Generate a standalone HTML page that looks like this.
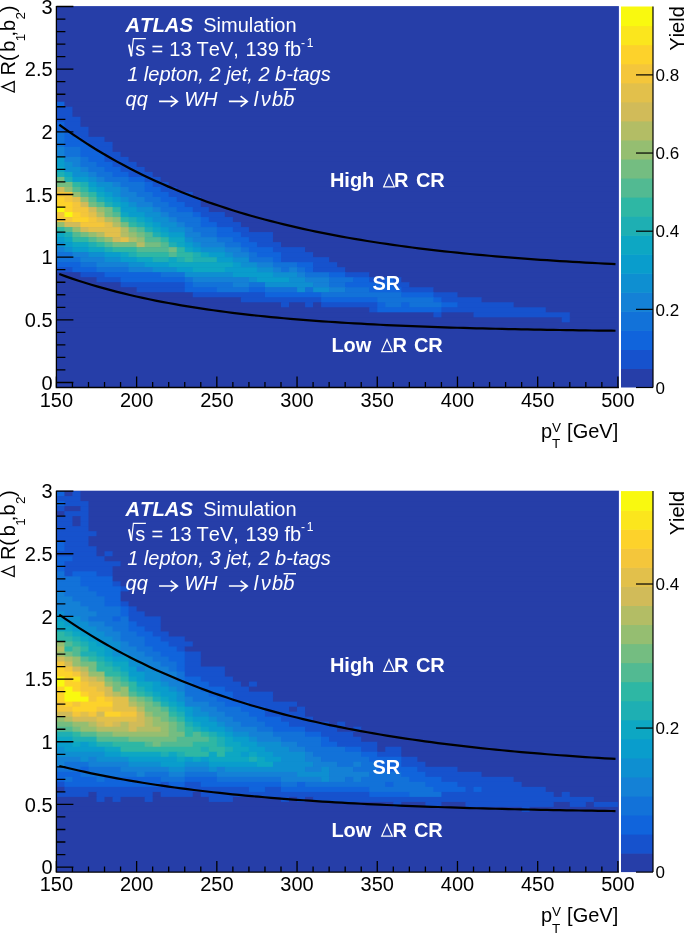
<!DOCTYPE html>
<html><head><meta charset="utf-8"><style>
html,body{margin:0;padding:0;background:#fff;}
svg{display:block;will-change:transform;}
text{font-kerning:none;}
.t{font-family:"Liberation Sans",sans-serif;font-size:20px;}
.sb{font-family:"Liberation Sans",sans-serif;font-size:13.5px;}
.sp{font-family:"Liberation Sans",sans-serif;font-size:12px;}
.cb{font-family:"Liberation Sans",sans-serif;font-size:17px;}
</style></head><body>
<svg width="685" height="933" viewBox="0 0 685 933">
<g transform="translate(0,0)">
<rect x="56.40" y="6.10" width="562.50" height="381.40" fill="#263ea8"/>
<rect x="56.40" y="101.75" width="8.62" height="5.61" fill="#1064dc"/>
<rect x="64.42" y="101.75" width="553.48" height="5.61" fill="#263ea8"/>
<rect x="56.40" y="106.76" width="16.64" height="5.61" fill="#1652cd"/>
<rect x="72.44" y="106.76" width="545.46" height="5.61" fill="#263ea8"/>
<rect x="56.40" y="111.78" width="16.64" height="5.61" fill="#1652cd"/>
<rect x="72.44" y="111.78" width="545.46" height="5.61" fill="#263ea8"/>
<rect x="56.40" y="116.79" width="24.66" height="5.61" fill="#1652cd"/>
<rect x="80.46" y="116.79" width="537.44" height="5.61" fill="#263ea8"/>
<rect x="56.40" y="121.80" width="8.62" height="5.61" fill="#1064dc"/>
<rect x="64.42" y="121.80" width="16.64" height="5.61" fill="#1652cd"/>
<rect x="80.46" y="121.80" width="537.44" height="5.61" fill="#263ea8"/>
<rect x="56.40" y="126.82" width="8.62" height="5.61" fill="#1064dc"/>
<rect x="64.42" y="126.82" width="24.66" height="5.61" fill="#1652cd"/>
<rect x="88.49" y="126.82" width="529.42" height="5.61" fill="#263ea8"/>
<rect x="56.40" y="131.83" width="8.62" height="5.61" fill="#1272d9"/>
<rect x="64.42" y="131.83" width="8.62" height="5.61" fill="#1064dc"/>
<rect x="72.44" y="131.83" width="16.64" height="5.61" fill="#1652cd"/>
<rect x="88.49" y="131.83" width="529.42" height="5.61" fill="#263ea8"/>
<rect x="56.40" y="136.84" width="8.62" height="5.61" fill="#1272d9"/>
<rect x="64.42" y="136.84" width="16.64" height="5.61" fill="#1064dc"/>
<rect x="80.46" y="136.84" width="24.66" height="5.61" fill="#1652cd"/>
<rect x="104.53" y="136.84" width="513.38" height="5.61" fill="#263ea8"/>
<rect x="56.40" y="141.86" width="8.62" height="5.61" fill="#1272d9"/>
<rect x="64.42" y="141.86" width="24.66" height="5.61" fill="#1064dc"/>
<rect x="88.49" y="141.86" width="24.66" height="5.61" fill="#1652cd"/>
<rect x="112.55" y="141.86" width="505.35" height="5.61" fill="#263ea8"/>
<rect x="56.40" y="146.87" width="8.62" height="5.61" fill="#1481d6"/>
<rect x="64.42" y="146.87" width="16.64" height="5.61" fill="#1272d9"/>
<rect x="80.46" y="146.87" width="16.64" height="5.61" fill="#1064dc"/>
<rect x="96.51" y="146.87" width="16.64" height="5.61" fill="#1652cd"/>
<rect x="112.55" y="146.87" width="505.35" height="5.61" fill="#263ea8"/>
<rect x="56.40" y="151.88" width="8.62" height="5.61" fill="#1481d6"/>
<rect x="64.42" y="151.88" width="16.64" height="5.61" fill="#1272d9"/>
<rect x="80.46" y="151.88" width="24.66" height="5.61" fill="#1064dc"/>
<rect x="104.53" y="151.88" width="16.64" height="5.61" fill="#1652cd"/>
<rect x="120.57" y="151.88" width="497.33" height="5.61" fill="#263ea8"/>
<rect x="56.40" y="156.90" width="8.62" height="5.61" fill="#099dcc"/>
<rect x="64.42" y="156.90" width="16.64" height="5.61" fill="#1481d6"/>
<rect x="80.46" y="156.90" width="8.62" height="5.61" fill="#1272d9"/>
<rect x="88.49" y="156.90" width="16.64" height="5.61" fill="#1064dc"/>
<rect x="104.53" y="156.90" width="24.66" height="5.61" fill="#1652cd"/>
<rect x="128.59" y="156.90" width="489.31" height="5.61" fill="#263ea8"/>
<rect x="56.40" y="161.91" width="8.62" height="5.61" fill="#099dcc"/>
<rect x="64.42" y="161.91" width="8.62" height="5.61" fill="#0e8fd1"/>
<rect x="72.44" y="161.91" width="8.62" height="5.61" fill="#1481d6"/>
<rect x="80.46" y="161.91" width="16.64" height="5.61" fill="#1272d9"/>
<rect x="96.51" y="161.91" width="16.64" height="5.61" fill="#1064dc"/>
<rect x="112.55" y="161.91" width="24.66" height="5.61" fill="#1652cd"/>
<rect x="136.62" y="161.91" width="481.29" height="5.61" fill="#263ea8"/>
<rect x="56.40" y="166.92" width="8.62" height="5.61" fill="#0da7c3"/>
<rect x="64.42" y="166.92" width="16.64" height="5.61" fill="#0e8fd1"/>
<rect x="80.46" y="166.92" width="8.62" height="5.61" fill="#1481d6"/>
<rect x="88.49" y="166.92" width="16.64" height="5.61" fill="#1272d9"/>
<rect x="104.53" y="166.92" width="16.64" height="5.61" fill="#1064dc"/>
<rect x="120.57" y="166.92" width="24.66" height="5.61" fill="#1652cd"/>
<rect x="144.64" y="166.92" width="473.27" height="5.61" fill="#263ea8"/>
<rect x="56.40" y="171.94" width="8.62" height="5.61" fill="#1eafb3"/>
<rect x="64.42" y="171.94" width="8.62" height="5.61" fill="#0da7c3"/>
<rect x="72.44" y="171.94" width="16.64" height="5.61" fill="#0e8fd1"/>
<rect x="88.49" y="171.94" width="8.62" height="5.61" fill="#1481d6"/>
<rect x="96.51" y="171.94" width="16.64" height="5.61" fill="#1272d9"/>
<rect x="112.55" y="171.94" width="16.64" height="5.61" fill="#1064dc"/>
<rect x="128.59" y="171.94" width="24.66" height="5.61" fill="#1652cd"/>
<rect x="152.66" y="171.94" width="465.25" height="5.61" fill="#263ea8"/>
<rect x="56.40" y="176.95" width="8.62" height="5.61" fill="#74bd81"/>
<rect x="64.42" y="176.95" width="8.62" height="5.61" fill="#1eafb3"/>
<rect x="72.44" y="176.95" width="16.64" height="5.61" fill="#099dcc"/>
<rect x="88.49" y="176.95" width="8.62" height="5.61" fill="#0e8fd1"/>
<rect x="96.51" y="176.95" width="8.62" height="5.61" fill="#1481d6"/>
<rect x="104.53" y="176.95" width="24.66" height="5.61" fill="#1272d9"/>
<rect x="128.59" y="176.95" width="16.64" height="5.61" fill="#1064dc"/>
<rect x="144.64" y="176.95" width="16.64" height="5.61" fill="#1652cd"/>
<rect x="160.68" y="176.95" width="457.23" height="5.61" fill="#263ea8"/>
<rect x="56.40" y="181.96" width="16.64" height="5.61" fill="#74bd81"/>
<rect x="72.44" y="181.96" width="8.62" height="5.61" fill="#2eb7a4"/>
<rect x="80.46" y="181.96" width="8.62" height="5.61" fill="#1eafb3"/>
<rect x="88.49" y="181.96" width="8.62" height="5.61" fill="#099dcc"/>
<rect x="96.51" y="181.96" width="16.64" height="5.61" fill="#0e8fd1"/>
<rect x="112.55" y="181.96" width="8.62" height="5.61" fill="#1481d6"/>
<rect x="120.57" y="181.96" width="24.66" height="5.61" fill="#1272d9"/>
<rect x="144.64" y="181.96" width="8.62" height="5.61" fill="#1064dc"/>
<rect x="152.66" y="181.96" width="16.64" height="5.61" fill="#1652cd"/>
<rect x="168.70" y="181.96" width="449.20" height="5.61" fill="#263ea8"/>
<rect x="56.40" y="186.98" width="8.62" height="5.61" fill="#d1bb59"/>
<rect x="64.42" y="186.98" width="8.62" height="5.61" fill="#95be71"/>
<rect x="72.44" y="186.98" width="8.62" height="5.61" fill="#52ba92"/>
<rect x="80.46" y="186.98" width="8.62" height="5.61" fill="#2eb7a4"/>
<rect x="88.49" y="186.98" width="8.62" height="5.61" fill="#0da7c3"/>
<rect x="96.51" y="186.98" width="8.62" height="5.61" fill="#099dcc"/>
<rect x="104.53" y="186.98" width="16.64" height="5.61" fill="#0e8fd1"/>
<rect x="120.57" y="186.98" width="8.62" height="5.61" fill="#1481d6"/>
<rect x="128.59" y="186.98" width="16.64" height="5.61" fill="#1272d9"/>
<rect x="144.64" y="186.98" width="16.64" height="5.61" fill="#1064dc"/>
<rect x="160.68" y="186.98" width="16.64" height="5.61" fill="#1652cd"/>
<rect x="176.72" y="186.98" width="441.18" height="5.61" fill="#263ea8"/>
<rect x="56.40" y="191.99" width="16.64" height="5.61" fill="#f4c63b"/>
<rect x="72.44" y="191.99" width="8.62" height="5.61" fill="#95be71"/>
<rect x="80.46" y="191.99" width="8.62" height="5.61" fill="#52ba92"/>
<rect x="88.49" y="191.99" width="8.62" height="5.61" fill="#2eb7a4"/>
<rect x="96.51" y="191.99" width="8.62" height="5.61" fill="#0da7c3"/>
<rect x="104.53" y="191.99" width="8.62" height="5.61" fill="#099dcc"/>
<rect x="112.55" y="191.99" width="8.62" height="5.61" fill="#0e8fd1"/>
<rect x="120.57" y="191.99" width="16.64" height="5.61" fill="#1481d6"/>
<rect x="136.62" y="191.99" width="16.64" height="5.61" fill="#1272d9"/>
<rect x="152.66" y="191.99" width="16.64" height="5.61" fill="#1064dc"/>
<rect x="168.70" y="191.99" width="24.66" height="5.61" fill="#1652cd"/>
<rect x="192.77" y="191.99" width="425.14" height="5.61" fill="#263ea8"/>
<rect x="56.40" y="197.00" width="8.62" height="5.61" fill="#fdd22b"/>
<rect x="64.42" y="197.00" width="8.62" height="5.61" fill="#f4c63b"/>
<rect x="72.44" y="197.00" width="8.62" height="5.61" fill="#e2c04b"/>
<rect x="80.46" y="197.00" width="8.62" height="5.61" fill="#95be71"/>
<rect x="88.49" y="197.00" width="8.62" height="5.61" fill="#52ba92"/>
<rect x="96.51" y="197.00" width="8.62" height="5.61" fill="#1eafb3"/>
<rect x="104.53" y="197.00" width="8.62" height="5.61" fill="#0da7c3"/>
<rect x="112.55" y="197.00" width="8.62" height="5.61" fill="#099dcc"/>
<rect x="120.57" y="197.00" width="8.62" height="5.61" fill="#0e8fd1"/>
<rect x="128.59" y="197.00" width="16.64" height="5.61" fill="#1481d6"/>
<rect x="144.64" y="197.00" width="16.64" height="5.61" fill="#1272d9"/>
<rect x="160.68" y="197.00" width="16.64" height="5.61" fill="#1064dc"/>
<rect x="176.72" y="197.00" width="24.66" height="5.61" fill="#1652cd"/>
<rect x="200.79" y="197.00" width="417.12" height="5.61" fill="#263ea8"/>
<rect x="56.40" y="202.01" width="16.64" height="5.61" fill="#fdd22b"/>
<rect x="72.44" y="202.01" width="8.62" height="5.61" fill="#f4c63b"/>
<rect x="80.46" y="202.01" width="8.62" height="5.61" fill="#d1bb59"/>
<rect x="88.49" y="202.01" width="8.62" height="5.61" fill="#74bd81"/>
<rect x="96.51" y="202.01" width="8.62" height="5.61" fill="#52ba92"/>
<rect x="104.53" y="202.01" width="8.62" height="5.61" fill="#1eafb3"/>
<rect x="112.55" y="202.01" width="8.62" height="5.61" fill="#0da7c3"/>
<rect x="120.57" y="202.01" width="8.62" height="5.61" fill="#099dcc"/>
<rect x="128.59" y="202.01" width="8.62" height="5.61" fill="#0e8fd1"/>
<rect x="136.62" y="202.01" width="16.64" height="5.61" fill="#1481d6"/>
<rect x="152.66" y="202.01" width="16.64" height="5.61" fill="#1272d9"/>
<rect x="168.70" y="202.01" width="16.64" height="5.61" fill="#1064dc"/>
<rect x="184.74" y="202.01" width="16.64" height="5.61" fill="#1652cd"/>
<rect x="200.79" y="202.01" width="417.12" height="5.61" fill="#263ea8"/>
<rect x="56.40" y="207.03" width="8.62" height="5.61" fill="#f9f90f"/>
<rect x="64.42" y="207.03" width="8.62" height="5.61" fill="#fdd22b"/>
<rect x="72.44" y="207.03" width="16.64" height="5.61" fill="#f4c63b"/>
<rect x="88.49" y="207.03" width="8.62" height="5.61" fill="#d1bb59"/>
<rect x="96.51" y="207.03" width="8.62" height="5.61" fill="#95be71"/>
<rect x="104.53" y="207.03" width="8.62" height="5.61" fill="#74bd81"/>
<rect x="112.55" y="207.03" width="8.62" height="5.61" fill="#2eb7a4"/>
<rect x="120.57" y="207.03" width="16.64" height="5.61" fill="#099dcc"/>
<rect x="136.62" y="207.03" width="16.64" height="5.61" fill="#0e8fd1"/>
<rect x="152.66" y="207.03" width="8.62" height="5.61" fill="#1481d6"/>
<rect x="160.68" y="207.03" width="16.64" height="5.61" fill="#1272d9"/>
<rect x="176.72" y="207.03" width="16.64" height="5.61" fill="#1064dc"/>
<rect x="192.77" y="207.03" width="16.64" height="5.61" fill="#1652cd"/>
<rect x="208.81" y="207.03" width="409.10" height="5.61" fill="#263ea8"/>
<rect x="56.40" y="212.04" width="8.62" height="5.61" fill="#f4c63b"/>
<rect x="64.42" y="212.04" width="8.62" height="5.61" fill="#f9f90f"/>
<rect x="72.44" y="212.04" width="8.62" height="5.61" fill="#fdd22b"/>
<rect x="80.46" y="212.04" width="8.62" height="5.61" fill="#f4c63b"/>
<rect x="88.49" y="212.04" width="8.62" height="5.61" fill="#e2c04b"/>
<rect x="96.51" y="212.04" width="8.62" height="5.61" fill="#b3bd65"/>
<rect x="104.53" y="212.04" width="8.62" height="5.61" fill="#74bd81"/>
<rect x="112.55" y="212.04" width="8.62" height="5.61" fill="#52ba92"/>
<rect x="120.57" y="212.04" width="8.62" height="5.61" fill="#0da7c3"/>
<rect x="128.59" y="212.04" width="16.64" height="5.61" fill="#099dcc"/>
<rect x="144.64" y="212.04" width="16.64" height="5.61" fill="#0e8fd1"/>
<rect x="160.68" y="212.04" width="8.62" height="5.61" fill="#1481d6"/>
<rect x="168.70" y="212.04" width="24.66" height="5.61" fill="#1272d9"/>
<rect x="192.77" y="212.04" width="8.62" height="5.61" fill="#1064dc"/>
<rect x="200.79" y="212.04" width="24.66" height="5.61" fill="#1652cd"/>
<rect x="224.85" y="212.04" width="393.05" height="5.61" fill="#263ea8"/>
<rect x="56.40" y="217.05" width="16.64" height="5.61" fill="#f4c63b"/>
<rect x="72.44" y="217.05" width="16.64" height="5.61" fill="#fdd22b"/>
<rect x="88.49" y="217.05" width="8.62" height="5.61" fill="#f4c63b"/>
<rect x="96.51" y="217.05" width="8.62" height="5.61" fill="#e2c04b"/>
<rect x="104.53" y="217.05" width="8.62" height="5.61" fill="#b3bd65"/>
<rect x="112.55" y="217.05" width="8.62" height="5.61" fill="#95be71"/>
<rect x="120.57" y="217.05" width="8.62" height="5.61" fill="#2eb7a4"/>
<rect x="128.59" y="217.05" width="8.62" height="5.61" fill="#1eafb3"/>
<rect x="136.62" y="217.05" width="8.62" height="5.61" fill="#0da7c3"/>
<rect x="144.64" y="217.05" width="8.62" height="5.61" fill="#099dcc"/>
<rect x="152.66" y="217.05" width="16.64" height="5.61" fill="#0e8fd1"/>
<rect x="168.70" y="217.05" width="8.62" height="5.61" fill="#1481d6"/>
<rect x="176.72" y="217.05" width="24.66" height="5.61" fill="#1272d9"/>
<rect x="200.79" y="217.05" width="8.62" height="5.61" fill="#1064dc"/>
<rect x="208.81" y="217.05" width="24.66" height="5.61" fill="#1652cd"/>
<rect x="232.87" y="217.05" width="385.03" height="5.61" fill="#263ea8"/>
<rect x="56.40" y="222.07" width="8.62" height="5.61" fill="#95be71"/>
<rect x="64.42" y="222.07" width="16.64" height="5.61" fill="#d1bb59"/>
<rect x="80.46" y="222.07" width="24.66" height="5.61" fill="#f4c63b"/>
<rect x="104.53" y="222.07" width="8.62" height="5.61" fill="#e2c04b"/>
<rect x="112.55" y="222.07" width="8.62" height="5.61" fill="#b3bd65"/>
<rect x="120.57" y="222.07" width="8.62" height="5.61" fill="#74bd81"/>
<rect x="128.59" y="222.07" width="8.62" height="5.61" fill="#2eb7a4"/>
<rect x="136.62" y="222.07" width="8.62" height="5.61" fill="#1eafb3"/>
<rect x="144.64" y="222.07" width="8.62" height="5.61" fill="#0da7c3"/>
<rect x="152.66" y="222.07" width="8.62" height="5.61" fill="#099dcc"/>
<rect x="160.68" y="222.07" width="16.64" height="5.61" fill="#0e8fd1"/>
<rect x="176.72" y="222.07" width="8.62" height="5.61" fill="#1481d6"/>
<rect x="184.74" y="222.07" width="16.64" height="5.61" fill="#1272d9"/>
<rect x="200.79" y="222.07" width="16.64" height="5.61" fill="#1064dc"/>
<rect x="216.83" y="222.07" width="24.66" height="5.61" fill="#1652cd"/>
<rect x="240.89" y="222.07" width="377.01" height="5.61" fill="#263ea8"/>
<rect x="56.40" y="227.08" width="8.62" height="5.61" fill="#2eb7a4"/>
<rect x="64.42" y="227.08" width="8.62" height="5.61" fill="#52ba92"/>
<rect x="72.44" y="227.08" width="8.62" height="5.61" fill="#95be71"/>
<rect x="80.46" y="227.08" width="8.62" height="5.61" fill="#d1bb59"/>
<rect x="88.49" y="227.08" width="32.69" height="5.61" fill="#e2c04b"/>
<rect x="120.57" y="227.08" width="8.62" height="5.61" fill="#b3bd65"/>
<rect x="128.59" y="227.08" width="8.62" height="5.61" fill="#74bd81"/>
<rect x="136.62" y="227.08" width="8.62" height="5.61" fill="#52ba92"/>
<rect x="144.64" y="227.08" width="8.62" height="5.61" fill="#1eafb3"/>
<rect x="152.66" y="227.08" width="8.62" height="5.61" fill="#0da7c3"/>
<rect x="160.68" y="227.08" width="8.62" height="5.61" fill="#099dcc"/>
<rect x="168.70" y="227.08" width="16.64" height="5.61" fill="#0e8fd1"/>
<rect x="184.74" y="227.08" width="8.62" height="5.61" fill="#1481d6"/>
<rect x="192.77" y="227.08" width="24.66" height="5.61" fill="#1272d9"/>
<rect x="216.83" y="227.08" width="16.64" height="5.61" fill="#1064dc"/>
<rect x="232.87" y="227.08" width="16.64" height="5.61" fill="#1652cd"/>
<rect x="248.92" y="227.08" width="368.99" height="5.61" fill="#263ea8"/>
<rect x="56.40" y="232.09" width="8.62" height="5.61" fill="#0da7c3"/>
<rect x="64.42" y="232.09" width="8.62" height="5.61" fill="#1eafb3"/>
<rect x="72.44" y="232.09" width="8.62" height="5.61" fill="#52ba92"/>
<rect x="80.46" y="232.09" width="8.62" height="5.61" fill="#74bd81"/>
<rect x="88.49" y="232.09" width="8.62" height="5.61" fill="#95be71"/>
<rect x="96.51" y="232.09" width="8.62" height="5.61" fill="#b3bd65"/>
<rect x="104.53" y="232.09" width="16.64" height="5.61" fill="#e2c04b"/>
<rect x="120.57" y="232.09" width="8.62" height="5.61" fill="#b3bd65"/>
<rect x="128.59" y="232.09" width="8.62" height="5.61" fill="#95be71"/>
<rect x="136.62" y="232.09" width="8.62" height="5.61" fill="#74bd81"/>
<rect x="144.64" y="232.09" width="8.62" height="5.61" fill="#52ba92"/>
<rect x="152.66" y="232.09" width="8.62" height="5.61" fill="#1eafb3"/>
<rect x="160.68" y="232.09" width="8.62" height="5.61" fill="#0da7c3"/>
<rect x="168.70" y="232.09" width="16.64" height="5.61" fill="#099dcc"/>
<rect x="184.74" y="232.09" width="16.64" height="5.61" fill="#1481d6"/>
<rect x="200.79" y="232.09" width="16.64" height="5.61" fill="#1272d9"/>
<rect x="216.83" y="232.09" width="24.66" height="5.61" fill="#1064dc"/>
<rect x="240.89" y="232.09" width="32.69" height="5.61" fill="#1652cd"/>
<rect x="272.98" y="232.09" width="344.92" height="5.61" fill="#263ea8"/>
<rect x="56.40" y="237.11" width="8.62" height="5.61" fill="#099dcc"/>
<rect x="64.42" y="237.11" width="8.62" height="5.61" fill="#0da7c3"/>
<rect x="72.44" y="237.11" width="16.64" height="5.61" fill="#2eb7a4"/>
<rect x="88.49" y="237.11" width="8.62" height="5.61" fill="#52ba92"/>
<rect x="96.51" y="237.11" width="8.62" height="5.61" fill="#74bd81"/>
<rect x="104.53" y="237.11" width="8.62" height="5.61" fill="#95be71"/>
<rect x="112.55" y="237.11" width="8.62" height="5.61" fill="#d1bb59"/>
<rect x="120.57" y="237.11" width="8.62" height="5.61" fill="#e2c04b"/>
<rect x="128.59" y="237.11" width="8.62" height="5.61" fill="#b3bd65"/>
<rect x="136.62" y="237.11" width="8.62" height="5.61" fill="#95be71"/>
<rect x="144.64" y="237.11" width="16.64" height="5.61" fill="#52ba92"/>
<rect x="160.68" y="237.11" width="8.62" height="5.61" fill="#2eb7a4"/>
<rect x="168.70" y="237.11" width="16.64" height="5.61" fill="#0da7c3"/>
<rect x="184.74" y="237.11" width="8.62" height="5.61" fill="#0e8fd1"/>
<rect x="192.77" y="237.11" width="24.66" height="5.61" fill="#1481d6"/>
<rect x="216.83" y="237.11" width="16.64" height="5.61" fill="#1272d9"/>
<rect x="232.87" y="237.11" width="16.64" height="5.61" fill="#1064dc"/>
<rect x="248.92" y="237.11" width="24.66" height="5.61" fill="#1652cd"/>
<rect x="272.98" y="237.11" width="344.92" height="5.61" fill="#263ea8"/>
<rect x="56.40" y="242.12" width="8.62" height="5.61" fill="#0e8fd1"/>
<rect x="64.42" y="242.12" width="8.62" height="5.61" fill="#099dcc"/>
<rect x="72.44" y="242.12" width="16.64" height="5.61" fill="#0da7c3"/>
<rect x="88.49" y="242.12" width="8.62" height="5.61" fill="#1eafb3"/>
<rect x="96.51" y="242.12" width="8.62" height="5.61" fill="#2eb7a4"/>
<rect x="104.53" y="242.12" width="8.62" height="5.61" fill="#52ba92"/>
<rect x="112.55" y="242.12" width="24.66" height="5.61" fill="#74bd81"/>
<rect x="136.62" y="242.12" width="8.62" height="5.61" fill="#b3bd65"/>
<rect x="144.64" y="242.12" width="16.64" height="5.61" fill="#74bd81"/>
<rect x="160.68" y="242.12" width="8.62" height="5.61" fill="#52ba92"/>
<rect x="168.70" y="242.12" width="8.62" height="5.61" fill="#1eafb3"/>
<rect x="176.72" y="242.12" width="8.62" height="5.61" fill="#0da7c3"/>
<rect x="184.74" y="242.12" width="8.62" height="5.61" fill="#099dcc"/>
<rect x="192.77" y="242.12" width="8.62" height="5.61" fill="#0e8fd1"/>
<rect x="200.79" y="242.12" width="24.66" height="5.61" fill="#1481d6"/>
<rect x="224.85" y="242.12" width="16.64" height="5.61" fill="#1272d9"/>
<rect x="240.89" y="242.12" width="16.64" height="5.61" fill="#1064dc"/>
<rect x="256.94" y="242.12" width="24.66" height="5.61" fill="#1652cd"/>
<rect x="281.00" y="242.12" width="336.90" height="5.61" fill="#263ea8"/>
<rect x="56.40" y="247.13" width="8.62" height="5.61" fill="#1481d6"/>
<rect x="64.42" y="247.13" width="8.62" height="5.61" fill="#0e8fd1"/>
<rect x="72.44" y="247.13" width="16.64" height="5.61" fill="#099dcc"/>
<rect x="88.49" y="247.13" width="16.64" height="5.61" fill="#0da7c3"/>
<rect x="104.53" y="247.13" width="8.62" height="5.61" fill="#1eafb3"/>
<rect x="112.55" y="247.13" width="24.66" height="5.61" fill="#2eb7a4"/>
<rect x="136.62" y="247.13" width="32.69" height="5.61" fill="#52ba92"/>
<rect x="168.70" y="247.13" width="8.62" height="5.61" fill="#74bd81"/>
<rect x="176.72" y="247.13" width="8.62" height="5.61" fill="#2eb7a4"/>
<rect x="184.74" y="247.13" width="8.62" height="5.61" fill="#0da7c3"/>
<rect x="192.77" y="247.13" width="8.62" height="5.61" fill="#099dcc"/>
<rect x="200.79" y="247.13" width="24.66" height="5.61" fill="#0e8fd1"/>
<rect x="224.85" y="247.13" width="16.64" height="5.61" fill="#1481d6"/>
<rect x="240.89" y="247.13" width="8.62" height="5.61" fill="#1272d9"/>
<rect x="248.92" y="247.13" width="24.66" height="5.61" fill="#1064dc"/>
<rect x="272.98" y="247.13" width="32.69" height="5.61" fill="#1652cd"/>
<rect x="305.07" y="247.13" width="312.84" height="5.61" fill="#263ea8"/>
<rect x="56.40" y="252.15" width="16.64" height="5.61" fill="#1272d9"/>
<rect x="72.44" y="252.15" width="16.64" height="5.61" fill="#1481d6"/>
<rect x="88.49" y="252.15" width="16.64" height="5.61" fill="#0e8fd1"/>
<rect x="104.53" y="252.15" width="16.64" height="5.61" fill="#099dcc"/>
<rect x="120.57" y="252.15" width="8.62" height="5.61" fill="#0da7c3"/>
<rect x="128.59" y="252.15" width="8.62" height="5.61" fill="#1eafb3"/>
<rect x="136.62" y="252.15" width="32.69" height="5.61" fill="#2eb7a4"/>
<rect x="168.70" y="252.15" width="8.62" height="5.61" fill="#52ba92"/>
<rect x="176.72" y="252.15" width="16.64" height="5.61" fill="#2eb7a4"/>
<rect x="192.77" y="252.15" width="8.62" height="5.61" fill="#1eafb3"/>
<rect x="200.79" y="252.15" width="8.62" height="5.61" fill="#0da7c3"/>
<rect x="208.81" y="252.15" width="16.64" height="5.61" fill="#099dcc"/>
<rect x="224.85" y="252.15" width="8.62" height="5.61" fill="#0e8fd1"/>
<rect x="232.87" y="252.15" width="16.64" height="5.61" fill="#1481d6"/>
<rect x="248.92" y="252.15" width="8.62" height="5.61" fill="#1272d9"/>
<rect x="256.94" y="252.15" width="24.66" height="5.61" fill="#1064dc"/>
<rect x="281.00" y="252.15" width="32.69" height="5.61" fill="#1652cd"/>
<rect x="313.09" y="252.15" width="304.82" height="5.61" fill="#263ea8"/>
<rect x="56.40" y="257.16" width="24.66" height="5.61" fill="#1272d9"/>
<rect x="80.46" y="257.16" width="24.66" height="5.61" fill="#1481d6"/>
<rect x="104.53" y="257.16" width="16.64" height="5.61" fill="#0e8fd1"/>
<rect x="120.57" y="257.16" width="16.64" height="5.61" fill="#099dcc"/>
<rect x="136.62" y="257.16" width="16.64" height="5.61" fill="#0da7c3"/>
<rect x="152.66" y="257.16" width="16.64" height="5.61" fill="#1eafb3"/>
<rect x="168.70" y="257.16" width="8.62" height="5.61" fill="#0da7c3"/>
<rect x="176.72" y="257.16" width="8.62" height="5.61" fill="#1eafb3"/>
<rect x="184.74" y="257.16" width="8.62" height="5.61" fill="#2eb7a4"/>
<rect x="192.77" y="257.16" width="24.66" height="5.61" fill="#1eafb3"/>
<rect x="216.83" y="257.16" width="16.64" height="5.61" fill="#099dcc"/>
<rect x="232.87" y="257.16" width="16.64" height="5.61" fill="#0e8fd1"/>
<rect x="248.92" y="257.16" width="24.66" height="5.61" fill="#1272d9"/>
<rect x="272.98" y="257.16" width="8.62" height="5.61" fill="#1064dc"/>
<rect x="281.00" y="257.16" width="48.73" height="5.61" fill="#1652cd"/>
<rect x="329.13" y="257.16" width="288.77" height="5.61" fill="#263ea8"/>
<rect x="56.40" y="262.17" width="24.66" height="5.61" fill="#1064dc"/>
<rect x="80.46" y="262.17" width="16.64" height="5.61" fill="#1272d9"/>
<rect x="96.51" y="262.17" width="32.69" height="5.61" fill="#1481d6"/>
<rect x="128.59" y="262.17" width="16.64" height="5.61" fill="#0e8fd1"/>
<rect x="144.64" y="262.17" width="24.66" height="5.61" fill="#099dcc"/>
<rect x="168.70" y="262.17" width="64.77" height="5.61" fill="#0da7c3"/>
<rect x="232.87" y="262.17" width="8.62" height="5.61" fill="#099dcc"/>
<rect x="240.89" y="262.17" width="16.64" height="5.61" fill="#0e8fd1"/>
<rect x="256.94" y="262.17" width="16.64" height="5.61" fill="#1481d6"/>
<rect x="272.98" y="262.17" width="24.66" height="5.61" fill="#1272d9"/>
<rect x="297.04" y="262.17" width="16.64" height="5.61" fill="#1064dc"/>
<rect x="313.09" y="262.17" width="24.66" height="5.61" fill="#1652cd"/>
<rect x="337.15" y="262.17" width="280.75" height="5.61" fill="#263ea8"/>
<rect x="56.40" y="267.19" width="16.64" height="5.61" fill="#1652cd"/>
<rect x="72.44" y="267.19" width="24.66" height="5.61" fill="#1064dc"/>
<rect x="96.51" y="267.19" width="32.69" height="5.61" fill="#1272d9"/>
<rect x="128.59" y="267.19" width="24.66" height="5.61" fill="#1481d6"/>
<rect x="152.66" y="267.19" width="24.66" height="5.61" fill="#0e8fd1"/>
<rect x="176.72" y="267.19" width="16.64" height="5.61" fill="#099dcc"/>
<rect x="192.77" y="267.19" width="32.69" height="5.61" fill="#0da7c3"/>
<rect x="224.85" y="267.19" width="32.69" height="5.61" fill="#099dcc"/>
<rect x="256.94" y="267.19" width="16.64" height="5.61" fill="#0e8fd1"/>
<rect x="272.98" y="267.19" width="8.62" height="5.61" fill="#1481d6"/>
<rect x="281.00" y="267.19" width="8.62" height="5.61" fill="#1272d9"/>
<rect x="289.02" y="267.19" width="8.62" height="5.61" fill="#1481d6"/>
<rect x="297.04" y="267.19" width="8.62" height="5.61" fill="#1272d9"/>
<rect x="305.07" y="267.19" width="8.62" height="5.61" fill="#1064dc"/>
<rect x="313.09" y="267.19" width="32.69" height="5.61" fill="#1652cd"/>
<rect x="345.17" y="267.19" width="272.73" height="5.61" fill="#263ea8"/>
<rect x="56.40" y="272.20" width="24.66" height="5.61" fill="#263ea8"/>
<rect x="80.46" y="272.20" width="24.66" height="5.61" fill="#1652cd"/>
<rect x="104.53" y="272.20" width="56.75" height="5.61" fill="#1064dc"/>
<rect x="160.68" y="272.20" width="24.66" height="5.61" fill="#1272d9"/>
<rect x="184.74" y="272.20" width="48.73" height="5.61" fill="#0e8fd1"/>
<rect x="232.87" y="272.20" width="40.71" height="5.61" fill="#099dcc"/>
<rect x="272.98" y="272.20" width="24.66" height="5.61" fill="#0e8fd1"/>
<rect x="297.04" y="272.20" width="8.62" height="5.61" fill="#1481d6"/>
<rect x="305.07" y="272.20" width="24.66" height="5.61" fill="#1272d9"/>
<rect x="329.13" y="272.20" width="16.64" height="5.61" fill="#1064dc"/>
<rect x="345.17" y="272.20" width="24.66" height="5.61" fill="#1652cd"/>
<rect x="369.24" y="272.20" width="248.67" height="5.61" fill="#263ea8"/>
<rect x="56.40" y="277.21" width="40.71" height="5.61" fill="#263ea8"/>
<rect x="96.51" y="277.21" width="24.66" height="5.61" fill="#1652cd"/>
<rect x="120.57" y="277.21" width="64.77" height="5.61" fill="#1064dc"/>
<rect x="184.74" y="277.21" width="8.62" height="5.61" fill="#1272d9"/>
<rect x="192.77" y="277.21" width="56.75" height="5.61" fill="#1481d6"/>
<rect x="248.92" y="277.21" width="8.62" height="5.61" fill="#0e8fd1"/>
<rect x="256.94" y="277.21" width="32.69" height="5.61" fill="#099dcc"/>
<rect x="289.02" y="277.21" width="16.64" height="5.61" fill="#0e8fd1"/>
<rect x="305.07" y="277.21" width="24.66" height="5.61" fill="#1481d6"/>
<rect x="329.13" y="277.21" width="24.66" height="5.61" fill="#1272d9"/>
<rect x="353.20" y="277.21" width="16.64" height="5.61" fill="#1064dc"/>
<rect x="369.24" y="277.21" width="16.64" height="5.61" fill="#1652cd"/>
<rect x="385.28" y="277.21" width="8.62" height="5.61" fill="#1064dc"/>
<rect x="393.30" y="277.21" width="8.62" height="5.61" fill="#1652cd"/>
<rect x="401.32" y="277.21" width="216.58" height="5.61" fill="#263ea8"/>
<rect x="56.40" y="282.23" width="64.77" height="5.61" fill="#263ea8"/>
<rect x="120.57" y="282.23" width="64.77" height="5.61" fill="#1652cd"/>
<rect x="184.74" y="282.23" width="8.62" height="5.61" fill="#1064dc"/>
<rect x="192.77" y="282.23" width="40.71" height="5.61" fill="#1272d9"/>
<rect x="232.87" y="282.23" width="16.64" height="5.61" fill="#1481d6"/>
<rect x="248.92" y="282.23" width="16.64" height="5.61" fill="#1272d9"/>
<rect x="264.96" y="282.23" width="48.73" height="5.61" fill="#0e8fd1"/>
<rect x="313.09" y="282.23" width="16.64" height="5.61" fill="#1481d6"/>
<rect x="329.13" y="282.23" width="16.64" height="5.61" fill="#1272d9"/>
<rect x="345.17" y="282.23" width="48.73" height="5.61" fill="#1064dc"/>
<rect x="393.30" y="282.23" width="16.64" height="5.61" fill="#1652cd"/>
<rect x="409.35" y="282.23" width="208.56" height="5.61" fill="#263ea8"/>
<rect x="56.40" y="287.24" width="80.81" height="5.61" fill="#263ea8"/>
<rect x="136.62" y="287.24" width="48.73" height="5.61" fill="#1652cd"/>
<rect x="184.74" y="287.24" width="32.69" height="5.61" fill="#1064dc"/>
<rect x="216.83" y="287.24" width="32.69" height="5.61" fill="#1272d9"/>
<rect x="248.92" y="287.24" width="16.64" height="5.61" fill="#1064dc"/>
<rect x="264.96" y="287.24" width="32.69" height="5.61" fill="#1272d9"/>
<rect x="297.04" y="287.24" width="8.62" height="5.61" fill="#0e8fd1"/>
<rect x="305.07" y="287.24" width="8.62" height="5.61" fill="#1272d9"/>
<rect x="313.09" y="287.24" width="16.64" height="5.61" fill="#0e8fd1"/>
<rect x="329.13" y="287.24" width="16.64" height="5.61" fill="#1481d6"/>
<rect x="345.17" y="287.24" width="24.66" height="5.61" fill="#1272d9"/>
<rect x="369.24" y="287.24" width="32.69" height="5.61" fill="#1064dc"/>
<rect x="401.32" y="287.24" width="32.69" height="5.61" fill="#1652cd"/>
<rect x="433.41" y="287.24" width="184.49" height="5.61" fill="#263ea8"/>
<rect x="56.40" y="292.25" width="136.97" height="5.61" fill="#263ea8"/>
<rect x="192.77" y="292.25" width="72.79" height="5.61" fill="#1652cd"/>
<rect x="264.96" y="292.25" width="56.75" height="5.61" fill="#1064dc"/>
<rect x="321.11" y="292.25" width="80.81" height="5.61" fill="#1272d9"/>
<rect x="401.32" y="292.25" width="32.69" height="5.61" fill="#1064dc"/>
<rect x="433.41" y="292.25" width="24.66" height="5.61" fill="#1652cd"/>
<rect x="457.47" y="292.25" width="160.43" height="5.61" fill="#263ea8"/>
<rect x="56.40" y="297.27" width="185.09" height="5.61" fill="#263ea8"/>
<rect x="240.89" y="297.27" width="80.81" height="5.61" fill="#1652cd"/>
<rect x="321.11" y="297.27" width="56.75" height="5.61" fill="#1064dc"/>
<rect x="377.26" y="297.27" width="56.75" height="5.61" fill="#1272d9"/>
<rect x="433.41" y="297.27" width="8.62" height="5.61" fill="#1064dc"/>
<rect x="441.43" y="297.27" width="40.71" height="5.61" fill="#1652cd"/>
<rect x="481.54" y="297.27" width="136.37" height="5.61" fill="#263ea8"/>
<rect x="56.40" y="302.28" width="225.20" height="5.61" fill="#263ea8"/>
<rect x="281.00" y="302.28" width="8.62" height="5.61" fill="#1652cd"/>
<rect x="289.02" y="302.28" width="16.64" height="5.61" fill="#263ea8"/>
<rect x="305.07" y="302.28" width="8.62" height="5.61" fill="#1652cd"/>
<rect x="313.09" y="302.28" width="8.62" height="5.61" fill="#263ea8"/>
<rect x="321.11" y="302.28" width="56.75" height="5.61" fill="#1652cd"/>
<rect x="377.26" y="302.28" width="8.62" height="5.61" fill="#1064dc"/>
<rect x="385.28" y="302.28" width="16.64" height="5.61" fill="#1272d9"/>
<rect x="401.32" y="302.28" width="8.62" height="5.61" fill="#1064dc"/>
<rect x="409.35" y="302.28" width="32.69" height="5.61" fill="#1272d9"/>
<rect x="441.43" y="302.28" width="16.64" height="5.61" fill="#1064dc"/>
<rect x="457.47" y="302.28" width="56.75" height="5.61" fill="#1652cd"/>
<rect x="513.63" y="302.28" width="104.28" height="5.61" fill="#263ea8"/>
<rect x="56.40" y="307.29" width="313.44" height="5.61" fill="#263ea8"/>
<rect x="369.24" y="307.29" width="8.62" height="5.61" fill="#1652cd"/>
<rect x="377.26" y="307.29" width="64.77" height="5.61" fill="#1064dc"/>
<rect x="441.43" y="307.29" width="104.88" height="5.61" fill="#1652cd"/>
<rect x="545.71" y="307.29" width="72.19" height="5.61" fill="#263ea8"/>
<rect x="56.40" y="312.31" width="377.61" height="5.61" fill="#263ea8"/>
<rect x="433.41" y="312.31" width="8.62" height="5.61" fill="#1652cd"/>
<rect x="441.43" y="312.31" width="32.69" height="5.61" fill="#263ea8"/>
<rect x="473.52" y="312.31" width="96.86" height="5.61" fill="#1652cd"/>
<rect x="569.78" y="312.31" width="48.13" height="5.61" fill="#263ea8"/>
<rect x="56.40" y="317.32" width="505.95" height="5.61" fill="#263ea8"/>
<rect x="561.75" y="317.32" width="8.62" height="5.61" fill="#1652cd"/>
<rect x="569.78" y="317.32" width="48.13" height="5.61" fill="#263ea8"/>
<rect x="56.40" y="322.33" width="561.50" height="5.61" fill="#263ea8"/>
<polyline points="59.29,124.75 65.70,129.38 72.12,133.87 78.54,138.21 84.96,142.42 91.37,146.50 97.79,150.46 104.21,154.29 110.63,158.00 117.04,161.60 123.46,165.08 129.88,168.46 136.29,171.73 142.71,174.90 149.13,177.97 155.55,180.95 161.96,183.83 168.38,186.62 174.80,189.33 181.21,191.95 187.63,194.50 194.05,196.96 200.47,199.34 206.88,201.66 213.30,203.89 219.72,206.07 226.13,208.17 232.55,210.21 238.97,212.18 245.39,214.09 251.80,215.95 258.22,217.74 264.64,219.48 271.06,221.17 277.47,222.80 283.89,224.38 290.31,225.92 296.72,227.40 303.14,228.84 309.56,230.24 315.98,231.59 322.39,232.90 328.81,234.17 335.23,235.40 341.64,236.59 348.06,237.74 354.48,238.86 360.90,239.95 367.31,241.00 373.73,242.01 380.15,243.00 386.56,243.95 392.98,244.88 399.40,245.78 405.82,246.65 412.23,247.49 418.65,248.30 425.07,249.09 431.49,249.86 437.90,250.60 444.32,251.32 450.74,252.02 457.15,252.69 463.57,253.35 469.99,253.98 476.41,254.59 482.82,255.19 489.24,255.76 495.66,256.32 502.07,256.86 508.49,257.39 514.91,257.90 521.33,258.39 527.74,258.87 534.16,259.33 540.58,259.78 546.99,260.21 553.41,260.63 559.83,261.04 566.25,261.43 572.66,261.81 579.08,262.18 585.50,262.54 591.92,262.89 598.33,263.23 604.75,263.56 611.17,263.87 615.50,264.08" fill="none" stroke="#000" stroke-width="2.2"/>
<polyline points="59.29,274.08 65.70,276.38 72.12,278.59 78.54,280.72 84.96,282.76 91.37,284.73 97.79,286.61 104.21,288.42 110.63,290.16 117.04,291.83 123.46,293.43 129.88,294.98 136.29,296.46 142.71,297.88 149.13,299.25 155.55,300.56 161.96,301.82 168.38,303.03 174.80,304.19 181.21,305.31 187.63,306.39 194.05,307.42 200.47,308.41 206.88,309.36 213.30,310.27 219.72,311.15 226.13,312.00 232.55,312.81 238.97,313.58 245.39,314.33 251.80,315.05 258.22,315.74 264.64,316.40 271.06,317.04 277.47,317.65 283.89,318.24 290.31,318.80 296.72,319.35 303.14,319.87 309.56,320.37 315.98,320.85 322.39,321.31 328.81,321.75 335.23,322.18 341.64,322.59 348.06,322.98 354.48,323.36 360.90,323.72 367.31,324.07 373.73,324.41 380.15,324.73 386.56,325.04 392.98,325.33 399.40,325.62 405.82,325.89 412.23,326.16 418.65,326.41 425.07,326.65 431.49,326.88 437.90,327.11 444.32,327.32 450.74,327.53 457.15,327.73 463.57,327.92 469.99,328.10 476.41,328.28 482.82,328.45 489.24,328.61 495.66,328.77 502.07,328.92 508.49,329.06 514.91,329.20 521.33,329.33 527.74,329.46 534.16,329.58 540.58,329.70 546.99,329.81 553.41,329.92 559.83,330.02 566.25,330.12 572.66,330.22 579.08,330.31 585.50,330.40 591.92,330.49 598.33,330.57 604.75,330.65 611.17,330.72 615.50,330.77" fill="none" stroke="#000" stroke-width="2.2"/>
<path d="M56.40,6.10V387.50H618.9" fill="none" stroke="#000" stroke-width="1.3"/>
<path d="M56.40,387.50v-11 M72.44,387.50v-5.5 M88.49,387.50v-5.5 M104.53,387.50v-5.5 M120.57,387.50v-5.5 M136.62,387.50v-11 M152.66,387.50v-5.5 M168.70,387.50v-5.5 M184.74,387.50v-5.5 M200.79,387.50v-5.5 M216.83,387.50v-11 M232.87,387.50v-5.5 M248.92,387.50v-5.5 M264.96,387.50v-5.5 M281.00,387.50v-5.5 M297.05,387.50v-11 M313.09,387.50v-5.5 M329.13,387.50v-5.5 M345.17,387.50v-5.5 M361.22,387.50v-5.5 M377.26,387.50v-11 M393.30,387.50v-5.5 M409.35,387.50v-5.5 M425.39,387.50v-5.5 M441.43,387.50v-5.5 M457.47,387.50v-11 M473.52,387.50v-5.5 M489.56,387.50v-5.5 M505.60,387.50v-5.5 M521.65,387.50v-5.5 M537.69,387.50v-11 M553.73,387.50v-5.5 M569.78,387.50v-5.5 M585.82,387.50v-5.5 M601.86,387.50v-5.5 M617.90,387.50v-11 M56.40,382.49h17 M56.40,369.96h9 M56.40,357.42h9 M56.40,344.89h9 M56.40,332.36h9 M56.40,319.82h17 M56.40,307.29h9 M56.40,294.76h9 M56.40,282.23h9 M56.40,269.69h9 M56.40,257.16h17 M56.40,244.63h9 M56.40,232.09h9 M56.40,219.56h9 M56.40,207.03h9 M56.40,194.50h17 M56.40,181.96h9 M56.40,169.43h9 M56.40,156.90h9 M56.40,144.36h9 M56.40,131.83h17 M56.40,119.30h9 M56.40,106.76h9 M56.40,94.23h9 M56.40,81.70h9 M56.40,69.16h17 M56.40,56.63h9 M56.40,44.10h9 M56.40,31.57h9 M56.40,19.03h9 M56.40,6.50h17" stroke="#000" stroke-width="1.3"/>
<text x="56.40" y="406.80" text-anchor="middle" class="t">150</text>
<text x="136.62" y="406.80" text-anchor="middle" class="t">200</text>
<text x="216.83" y="406.80" text-anchor="middle" class="t">250</text>
<text x="297.05" y="406.80" text-anchor="middle" class="t">300</text>
<text x="377.26" y="406.80" text-anchor="middle" class="t">350</text>
<text x="457.47" y="406.80" text-anchor="middle" class="t">400</text>
<text x="537.69" y="406.80" text-anchor="middle" class="t">450</text>
<text x="617.90" y="406.80" text-anchor="middle" class="t">500</text>
<text x="52.6" y="389.69" text-anchor="end" class="t">0</text>
<text x="52.6" y="327.02" text-anchor="end" class="t">0.5</text>
<text x="52.6" y="264.36" text-anchor="end" class="t">1</text>
<text x="52.6" y="201.69" text-anchor="end" class="t">1.5</text>
<text x="52.6" y="139.03" text-anchor="end" class="t">2</text>
<text x="52.6" y="76.36" text-anchor="end" class="t">2.5</text>
<text x="52.6" y="13.70" text-anchor="end" class="t">3</text>
<rect x="621.0" y="368.45" width="32.00" height="19.05" fill="#263ea8"/>
<rect x="621.0" y="349.40" width="32.00" height="19.65" fill="#1652cd"/>
<rect x="621.0" y="330.35" width="32.00" height="19.65" fill="#1064dc"/>
<rect x="621.0" y="311.30" width="32.00" height="19.65" fill="#1272d9"/>
<rect x="621.0" y="292.25" width="32.00" height="19.65" fill="#1481d6"/>
<rect x="621.0" y="273.20" width="32.00" height="19.65" fill="#0e8fd1"/>
<rect x="621.0" y="254.15" width="32.00" height="19.65" fill="#099dcc"/>
<rect x="621.0" y="235.10" width="32.00" height="19.65" fill="#0da7c3"/>
<rect x="621.0" y="216.05" width="32.00" height="19.65" fill="#1eafb3"/>
<rect x="621.0" y="197.00" width="32.00" height="19.65" fill="#2eb7a4"/>
<rect x="621.0" y="177.95" width="32.00" height="19.65" fill="#52ba92"/>
<rect x="621.0" y="158.90" width="32.00" height="19.65" fill="#74bd81"/>
<rect x="621.0" y="139.85" width="32.00" height="19.65" fill="#95be71"/>
<rect x="621.0" y="120.80" width="32.00" height="19.65" fill="#b3bd65"/>
<rect x="621.0" y="101.75" width="32.00" height="19.65" fill="#d1bb59"/>
<rect x="621.0" y="82.70" width="32.00" height="19.65" fill="#e2c04b"/>
<rect x="621.0" y="63.65" width="32.00" height="19.65" fill="#f4c63b"/>
<rect x="621.0" y="44.60" width="32.00" height="19.65" fill="#fdd22b"/>
<rect x="621.0" y="25.55" width="32.00" height="19.65" fill="#fbe61d"/>
<rect x="621.0" y="6.50" width="32.00" height="19.65" fill="#f9f90f"/>
<path d="M653.00,6.50V387.50" stroke="#000" stroke-width="1.2"/>
<path d="M653.00,387.50h-17" stroke="#000" stroke-width="1.2"/>
<text x="655.60" y="393.70" class="cb">0</text>
<path d="M653.00,309.35h-17" stroke="#000" stroke-width="1.2"/>
<text x="655.60" y="315.55" class="cb">0.2</text>
<path d="M653.00,231.19h-17" stroke="#000" stroke-width="1.2"/>
<text x="655.60" y="237.39" class="cb">0.4</text>
<path d="M653.00,153.04h-17" stroke="#000" stroke-width="1.2"/>
<text x="655.60" y="159.24" class="cb">0.6</text>
<path d="M653.00,74.89h-17" stroke="#000" stroke-width="1.2"/>
<text x="655.60" y="81.09" class="cb">0.8</text>
<text transform="translate(683.9,6.2) rotate(-90)" text-anchor="end" class="t">Yield</text>
<text transform="translate(14.8,92.7) rotate(-90)" class="t"><tspan x="17.2">R(</tspan><tspan x="41.0">b</tspan><tspan x="56.1">,</tspan><tspan x="61.7">b</tspan><tspan x="80.4">)</tspan></text>
<text transform="translate(25.1,92.7) rotate(-90)" class="sb"><tspan x="51.5">1</tspan><tspan x="73.3">2</tspan></text>
<path d="M14.2,92.0 L14.2,81.6 L2.0,86.8 Z" fill="none" stroke="#000" stroke-width="1.3"/>
<text x="541.1" y="437.80" class="t">p</text>
<text x="552.0" y="431.70" class="sb">V</text>
<text x="552.0" y="448.00" class="sb">T</text>
<text x="567.1" y="437.80" class="t">[GeV]</text>
<g fill="#fff">
<text x="125.4" y="31.6" class="t" style="font-size:20.3px" font-weight="bold" font-style="italic">ATLAS</text>
<text x="203.2" y="31.6" class="t">Simulation</text>
<path d="M128.9,44.6 L131.4,56.2" fill="none" stroke="#fff" stroke-width="2.0"/>
<path d="M131.4,56.4 L133.4,38.7 H145.9" fill="none" stroke="#fff" stroke-width="1.2" stroke-linejoin="miter"/>
<text y="56" class="t"><tspan x="135.3">s</tspan><tspan x="151.5">=</tspan><tspan x="169.3">13</tspan><tspan x="196.6">TeV,</tspan><tspan x="245.4">139</tspan><tspan x="284.4">fb</tspan></text>
<text y="46.7" class="sp"><tspan x="301.1">-</tspan><tspan x="306.7">1</tspan></text>
<text x="127.2" y="80.7" class="t" font-style="italic">1 lepton, 2 jet, 2 b-tags</text>
<text y="105.5" class="t" font-style="italic"><tspan x="125.6">qq</tspan><tspan x="184.2">WH</tspan><tspan x="253.7">l</tspan><tspan x="260.7">&#957;</tspan><tspan x="271.9">b</tspan><tspan x="283.2">b</tspan></text>
<path d="M159.05,101.4H177.2M170.7,96.2L177.4,101.4L170.7,106.6M228.9,101.4H247.2M240.6,96.2L247.3,101.4L240.6,106.6M283.6,89.1H296" fill="none" stroke="#fff" stroke-width="1.6"/>
</g>
<text x="329.9" y="187.4" class="t" fill="#fff" font-weight="bold">High</text>
<text x="393.9" y="187.4" class="t" fill="#fff" font-weight="bold">R</text>
<text x="415.9" y="187.4" class="t" fill="#fff" font-weight="bold">CR</text>
<text x="372.5" y="289.9" class="t" fill="#fff" font-weight="bold">SR</text>
<text x="331.4" y="352.2" class="t" fill="#fff" font-weight="bold">Low</text>
<text x="392.4" y="352.2" class="t" fill="#fff" font-weight="bold">R</text>
<text x="413.9" y="352.2" class="t" fill="#fff" font-weight="bold">CR</text>
<path d="M383.70,186.80L389.00,174.80L394.30,186.80Z" fill="none" stroke="#fff" stroke-width="1.2"/>
<path d="M381.70,351.60L387.00,339.60L392.30,351.60Z" fill="none" stroke="#fff" stroke-width="1.2"/>
</g>
<g transform="translate(0,484.6)">
<rect x="56.40" y="6.10" width="562.50" height="381.40" fill="#263ea8"/>
<rect x="56.40" y="6.50" width="8.62" height="5.61" fill="#1064dc"/>
<rect x="64.42" y="6.50" width="8.62" height="5.61" fill="#263ea8"/>
<rect x="72.44" y="6.50" width="8.62" height="5.61" fill="#1652cd"/>
<rect x="80.46" y="6.50" width="537.44" height="5.61" fill="#263ea8"/>
<rect x="56.40" y="11.51" width="24.66" height="5.61" fill="#1652cd"/>
<rect x="80.46" y="11.51" width="537.44" height="5.61" fill="#263ea8"/>
<rect x="56.40" y="16.53" width="8.62" height="5.61" fill="#1064dc"/>
<rect x="64.42" y="16.53" width="24.66" height="5.61" fill="#1652cd"/>
<rect x="88.49" y="16.53" width="529.42" height="5.61" fill="#263ea8"/>
<rect x="56.40" y="21.54" width="8.62" height="5.61" fill="#1652cd"/>
<rect x="64.42" y="21.54" width="16.64" height="5.61" fill="#263ea8"/>
<rect x="80.46" y="21.54" width="8.62" height="5.61" fill="#1652cd"/>
<rect x="88.49" y="21.54" width="529.42" height="5.61" fill="#263ea8"/>
<rect x="56.40" y="26.55" width="8.62" height="5.61" fill="#263ea8"/>
<rect x="64.42" y="26.55" width="24.66" height="5.61" fill="#1652cd"/>
<rect x="88.49" y="26.55" width="529.42" height="5.61" fill="#263ea8"/>
<rect x="56.40" y="31.57" width="16.64" height="5.61" fill="#1652cd"/>
<rect x="72.44" y="31.57" width="8.62" height="5.61" fill="#263ea8"/>
<rect x="80.46" y="31.57" width="8.62" height="5.61" fill="#1652cd"/>
<rect x="88.49" y="31.57" width="529.42" height="5.61" fill="#263ea8"/>
<rect x="56.40" y="36.58" width="16.64" height="5.61" fill="#1652cd"/>
<rect x="72.44" y="36.58" width="8.62" height="5.61" fill="#263ea8"/>
<rect x="80.46" y="36.58" width="8.62" height="5.61" fill="#1652cd"/>
<rect x="88.49" y="36.58" width="529.42" height="5.61" fill="#263ea8"/>
<rect x="56.40" y="41.59" width="32.69" height="5.61" fill="#1652cd"/>
<rect x="88.49" y="41.59" width="529.42" height="5.61" fill="#263ea8"/>
<rect x="56.40" y="46.61" width="40.71" height="5.61" fill="#1652cd"/>
<rect x="96.51" y="46.61" width="521.40" height="5.61" fill="#263ea8"/>
<rect x="56.40" y="51.62" width="32.69" height="5.61" fill="#1652cd"/>
<rect x="88.49" y="51.62" width="529.42" height="5.61" fill="#263ea8"/>
<rect x="56.40" y="56.63" width="8.62" height="5.61" fill="#1064dc"/>
<rect x="64.42" y="56.63" width="24.66" height="5.61" fill="#1652cd"/>
<rect x="88.49" y="56.63" width="529.42" height="5.61" fill="#263ea8"/>
<rect x="56.40" y="61.65" width="8.62" height="5.61" fill="#1064dc"/>
<rect x="64.42" y="61.65" width="32.69" height="5.61" fill="#1652cd"/>
<rect x="96.51" y="61.65" width="521.40" height="5.61" fill="#263ea8"/>
<rect x="56.40" y="66.66" width="40.71" height="5.61" fill="#1652cd"/>
<rect x="96.51" y="66.66" width="8.62" height="5.61" fill="#263ea8"/>
<rect x="104.53" y="66.66" width="8.62" height="5.61" fill="#1652cd"/>
<rect x="112.55" y="66.66" width="505.35" height="5.61" fill="#263ea8"/>
<rect x="56.40" y="71.67" width="16.64" height="5.61" fill="#1064dc"/>
<rect x="72.44" y="71.67" width="32.69" height="5.61" fill="#1652cd"/>
<rect x="104.53" y="71.67" width="513.38" height="5.61" fill="#263ea8"/>
<rect x="56.40" y="76.68" width="8.62" height="5.61" fill="#1064dc"/>
<rect x="64.42" y="76.68" width="56.75" height="5.61" fill="#1652cd"/>
<rect x="120.57" y="76.68" width="497.33" height="5.61" fill="#263ea8"/>
<rect x="56.40" y="81.70" width="8.62" height="5.61" fill="#1064dc"/>
<rect x="64.42" y="81.70" width="48.73" height="5.61" fill="#1652cd"/>
<rect x="112.55" y="81.70" width="505.35" height="5.61" fill="#263ea8"/>
<rect x="56.40" y="86.71" width="8.62" height="5.61" fill="#1272d9"/>
<rect x="64.42" y="86.71" width="8.62" height="5.61" fill="#1652cd"/>
<rect x="72.44" y="86.71" width="24.66" height="5.61" fill="#1064dc"/>
<rect x="96.51" y="86.71" width="16.64" height="5.61" fill="#1652cd"/>
<rect x="112.55" y="86.71" width="505.35" height="5.61" fill="#263ea8"/>
<rect x="56.40" y="91.72" width="24.66" height="5.61" fill="#1272d9"/>
<rect x="80.46" y="91.72" width="32.69" height="5.61" fill="#1064dc"/>
<rect x="112.55" y="91.72" width="505.35" height="5.61" fill="#263ea8"/>
<rect x="56.40" y="96.74" width="24.66" height="5.61" fill="#1272d9"/>
<rect x="80.46" y="96.74" width="32.69" height="5.61" fill="#1064dc"/>
<rect x="112.55" y="96.74" width="8.62" height="5.61" fill="#1652cd"/>
<rect x="120.57" y="96.74" width="497.33" height="5.61" fill="#263ea8"/>
<rect x="56.40" y="101.75" width="32.69" height="5.61" fill="#1272d9"/>
<rect x="88.49" y="101.75" width="32.69" height="5.61" fill="#1064dc"/>
<rect x="120.57" y="101.75" width="8.62" height="5.61" fill="#1652cd"/>
<rect x="128.59" y="101.75" width="489.31" height="5.61" fill="#263ea8"/>
<rect x="56.40" y="106.76" width="8.62" height="5.61" fill="#1481d6"/>
<rect x="64.42" y="106.76" width="32.69" height="5.61" fill="#1272d9"/>
<rect x="96.51" y="106.76" width="24.66" height="5.61" fill="#1064dc"/>
<rect x="120.57" y="106.76" width="497.33" height="5.61" fill="#263ea8"/>
<rect x="56.40" y="111.78" width="16.64" height="5.61" fill="#1481d6"/>
<rect x="72.44" y="111.78" width="32.69" height="5.61" fill="#1272d9"/>
<rect x="104.53" y="111.78" width="16.64" height="5.61" fill="#1064dc"/>
<rect x="120.57" y="111.78" width="497.33" height="5.61" fill="#263ea8"/>
<rect x="56.40" y="116.79" width="24.66" height="5.61" fill="#1481d6"/>
<rect x="80.46" y="116.79" width="24.66" height="5.61" fill="#1272d9"/>
<rect x="104.53" y="116.79" width="16.64" height="5.61" fill="#1064dc"/>
<rect x="120.57" y="116.79" width="8.62" height="5.61" fill="#1652cd"/>
<rect x="128.59" y="116.79" width="489.31" height="5.61" fill="#263ea8"/>
<rect x="56.40" y="121.80" width="32.69" height="5.61" fill="#1481d6"/>
<rect x="88.49" y="121.80" width="32.69" height="5.61" fill="#1272d9"/>
<rect x="120.57" y="121.80" width="8.62" height="5.61" fill="#1064dc"/>
<rect x="128.59" y="121.80" width="8.62" height="5.61" fill="#1652cd"/>
<rect x="136.62" y="121.80" width="481.29" height="5.61" fill="#263ea8"/>
<rect x="56.40" y="126.82" width="8.62" height="5.61" fill="#0e8fd1"/>
<rect x="64.42" y="126.82" width="32.69" height="5.61" fill="#1481d6"/>
<rect x="96.51" y="126.82" width="24.66" height="5.61" fill="#1272d9"/>
<rect x="120.57" y="126.82" width="8.62" height="5.61" fill="#1064dc"/>
<rect x="128.59" y="126.82" width="16.64" height="5.61" fill="#1652cd"/>
<rect x="144.64" y="126.82" width="473.27" height="5.61" fill="#263ea8"/>
<rect x="56.40" y="131.83" width="8.62" height="5.61" fill="#099dcc"/>
<rect x="64.42" y="131.83" width="16.64" height="5.61" fill="#0e8fd1"/>
<rect x="80.46" y="131.83" width="8.62" height="5.61" fill="#1481d6"/>
<rect x="88.49" y="131.83" width="24.66" height="5.61" fill="#1272d9"/>
<rect x="112.55" y="131.83" width="8.62" height="5.61" fill="#1064dc"/>
<rect x="120.57" y="131.83" width="8.62" height="5.61" fill="#1272d9"/>
<rect x="128.59" y="131.83" width="32.69" height="5.61" fill="#1652cd"/>
<rect x="160.68" y="131.83" width="457.23" height="5.61" fill="#263ea8"/>
<rect x="56.40" y="136.84" width="8.62" height="5.61" fill="#0da7c3"/>
<rect x="64.42" y="136.84" width="8.62" height="5.61" fill="#099dcc"/>
<rect x="72.44" y="136.84" width="16.64" height="5.61" fill="#0e8fd1"/>
<rect x="88.49" y="136.84" width="16.64" height="5.61" fill="#1481d6"/>
<rect x="104.53" y="136.84" width="24.66" height="5.61" fill="#1272d9"/>
<rect x="128.59" y="136.84" width="8.62" height="5.61" fill="#1064dc"/>
<rect x="136.62" y="136.84" width="24.66" height="5.61" fill="#1652cd"/>
<rect x="160.68" y="136.84" width="457.23" height="5.61" fill="#263ea8"/>
<rect x="56.40" y="141.86" width="16.64" height="5.61" fill="#0da7c3"/>
<rect x="72.44" y="141.86" width="8.62" height="5.61" fill="#099dcc"/>
<rect x="80.46" y="141.86" width="16.64" height="5.61" fill="#0e8fd1"/>
<rect x="96.51" y="141.86" width="16.64" height="5.61" fill="#1481d6"/>
<rect x="112.55" y="141.86" width="16.64" height="5.61" fill="#1272d9"/>
<rect x="128.59" y="141.86" width="16.64" height="5.61" fill="#1064dc"/>
<rect x="144.64" y="141.86" width="16.64" height="5.61" fill="#1652cd"/>
<rect x="160.68" y="141.86" width="457.23" height="5.61" fill="#263ea8"/>
<rect x="56.40" y="146.87" width="8.62" height="5.61" fill="#2eb7a4"/>
<rect x="64.42" y="146.87" width="8.62" height="5.61" fill="#1eafb3"/>
<rect x="72.44" y="146.87" width="8.62" height="5.61" fill="#0da7c3"/>
<rect x="80.46" y="146.87" width="8.62" height="5.61" fill="#099dcc"/>
<rect x="88.49" y="146.87" width="16.64" height="5.61" fill="#0e8fd1"/>
<rect x="104.53" y="146.87" width="16.64" height="5.61" fill="#1481d6"/>
<rect x="120.57" y="146.87" width="16.64" height="5.61" fill="#1272d9"/>
<rect x="136.62" y="146.87" width="16.64" height="5.61" fill="#1064dc"/>
<rect x="152.66" y="146.87" width="16.64" height="5.61" fill="#1652cd"/>
<rect x="168.70" y="146.87" width="449.20" height="5.61" fill="#263ea8"/>
<rect x="56.40" y="151.88" width="16.64" height="5.61" fill="#2eb7a4"/>
<rect x="72.44" y="151.88" width="8.62" height="5.61" fill="#1eafb3"/>
<rect x="80.46" y="151.88" width="8.62" height="5.61" fill="#0da7c3"/>
<rect x="88.49" y="151.88" width="8.62" height="5.61" fill="#099dcc"/>
<rect x="96.51" y="151.88" width="16.64" height="5.61" fill="#0e8fd1"/>
<rect x="112.55" y="151.88" width="8.62" height="5.61" fill="#1481d6"/>
<rect x="120.57" y="151.88" width="24.66" height="5.61" fill="#1272d9"/>
<rect x="144.64" y="151.88" width="16.64" height="5.61" fill="#1064dc"/>
<rect x="160.68" y="151.88" width="24.66" height="5.61" fill="#1652cd"/>
<rect x="184.74" y="151.88" width="433.16" height="5.61" fill="#263ea8"/>
<rect x="56.40" y="156.90" width="8.62" height="5.61" fill="#95be71"/>
<rect x="64.42" y="156.90" width="8.62" height="5.61" fill="#52ba92"/>
<rect x="72.44" y="156.90" width="8.62" height="5.61" fill="#2eb7a4"/>
<rect x="80.46" y="156.90" width="8.62" height="5.61" fill="#1eafb3"/>
<rect x="88.49" y="156.90" width="8.62" height="5.61" fill="#0da7c3"/>
<rect x="96.51" y="156.90" width="8.62" height="5.61" fill="#099dcc"/>
<rect x="104.53" y="156.90" width="16.64" height="5.61" fill="#0e8fd1"/>
<rect x="120.57" y="156.90" width="8.62" height="5.61" fill="#1481d6"/>
<rect x="128.59" y="156.90" width="16.64" height="5.61" fill="#1272d9"/>
<rect x="144.64" y="156.90" width="24.66" height="5.61" fill="#1064dc"/>
<rect x="168.70" y="156.90" width="24.66" height="5.61" fill="#1652cd"/>
<rect x="192.77" y="156.90" width="425.14" height="5.61" fill="#263ea8"/>
<rect x="56.40" y="161.91" width="8.62" height="5.61" fill="#b3bd65"/>
<rect x="64.42" y="161.91" width="8.62" height="5.61" fill="#2eb7a4"/>
<rect x="72.44" y="161.91" width="8.62" height="5.61" fill="#52ba92"/>
<rect x="80.46" y="161.91" width="8.62" height="5.61" fill="#2eb7a4"/>
<rect x="88.49" y="161.91" width="16.64" height="5.61" fill="#0da7c3"/>
<rect x="104.53" y="161.91" width="8.62" height="5.61" fill="#099dcc"/>
<rect x="112.55" y="161.91" width="8.62" height="5.61" fill="#0e8fd1"/>
<rect x="120.57" y="161.91" width="16.64" height="5.61" fill="#1481d6"/>
<rect x="136.62" y="161.91" width="16.64" height="5.61" fill="#1272d9"/>
<rect x="152.66" y="161.91" width="24.66" height="5.61" fill="#1064dc"/>
<rect x="176.72" y="161.91" width="8.62" height="5.61" fill="#1652cd"/>
<rect x="184.74" y="161.91" width="433.16" height="5.61" fill="#263ea8"/>
<rect x="56.40" y="166.92" width="8.62" height="5.61" fill="#95be71"/>
<rect x="64.42" y="166.92" width="8.62" height="5.61" fill="#74bd81"/>
<rect x="72.44" y="166.92" width="8.62" height="5.61" fill="#52ba92"/>
<rect x="80.46" y="166.92" width="16.64" height="5.61" fill="#1eafb3"/>
<rect x="96.51" y="166.92" width="8.62" height="5.61" fill="#0da7c3"/>
<rect x="104.53" y="166.92" width="8.62" height="5.61" fill="#099dcc"/>
<rect x="112.55" y="166.92" width="16.64" height="5.61" fill="#0e8fd1"/>
<rect x="128.59" y="166.92" width="16.64" height="5.61" fill="#1481d6"/>
<rect x="144.64" y="166.92" width="16.64" height="5.61" fill="#1272d9"/>
<rect x="160.68" y="166.92" width="24.66" height="5.61" fill="#1064dc"/>
<rect x="184.74" y="166.92" width="16.64" height="5.61" fill="#1652cd"/>
<rect x="200.79" y="166.92" width="417.12" height="5.61" fill="#263ea8"/>
<rect x="56.40" y="171.94" width="8.62" height="5.61" fill="#d1bb59"/>
<rect x="64.42" y="171.94" width="8.62" height="5.61" fill="#b3bd65"/>
<rect x="72.44" y="171.94" width="8.62" height="5.61" fill="#95be71"/>
<rect x="80.46" y="171.94" width="8.62" height="5.61" fill="#52ba92"/>
<rect x="88.49" y="171.94" width="8.62" height="5.61" fill="#2eb7a4"/>
<rect x="96.51" y="171.94" width="8.62" height="5.61" fill="#1eafb3"/>
<rect x="104.53" y="171.94" width="8.62" height="5.61" fill="#0da7c3"/>
<rect x="112.55" y="171.94" width="16.64" height="5.61" fill="#099dcc"/>
<rect x="128.59" y="171.94" width="8.62" height="5.61" fill="#0e8fd1"/>
<rect x="136.62" y="171.94" width="16.64" height="5.61" fill="#1481d6"/>
<rect x="152.66" y="171.94" width="16.64" height="5.61" fill="#1272d9"/>
<rect x="168.70" y="171.94" width="16.64" height="5.61" fill="#1064dc"/>
<rect x="184.74" y="171.94" width="16.64" height="5.61" fill="#1652cd"/>
<rect x="200.79" y="171.94" width="417.12" height="5.61" fill="#263ea8"/>
<rect x="56.40" y="176.95" width="8.62" height="5.61" fill="#f4c63b"/>
<rect x="64.42" y="176.95" width="8.62" height="5.61" fill="#d1bb59"/>
<rect x="72.44" y="176.95" width="8.62" height="5.61" fill="#95be71"/>
<rect x="80.46" y="176.95" width="16.64" height="5.61" fill="#74bd81"/>
<rect x="96.51" y="176.95" width="8.62" height="5.61" fill="#2eb7a4"/>
<rect x="104.53" y="176.95" width="8.62" height="5.61" fill="#1eafb3"/>
<rect x="112.55" y="176.95" width="16.64" height="5.61" fill="#0da7c3"/>
<rect x="128.59" y="176.95" width="16.64" height="5.61" fill="#0e8fd1"/>
<rect x="144.64" y="176.95" width="16.64" height="5.61" fill="#1481d6"/>
<rect x="160.68" y="176.95" width="16.64" height="5.61" fill="#1272d9"/>
<rect x="176.72" y="176.95" width="8.62" height="5.61" fill="#1064dc"/>
<rect x="184.74" y="176.95" width="16.64" height="5.61" fill="#1652cd"/>
<rect x="200.79" y="176.95" width="417.12" height="5.61" fill="#263ea8"/>
<rect x="56.40" y="181.96" width="8.62" height="5.61" fill="#fdd22b"/>
<rect x="64.42" y="181.96" width="8.62" height="5.61" fill="#f4c63b"/>
<rect x="72.44" y="181.96" width="8.62" height="5.61" fill="#d1bb59"/>
<rect x="80.46" y="181.96" width="8.62" height="5.61" fill="#b3bd65"/>
<rect x="88.49" y="181.96" width="8.62" height="5.61" fill="#74bd81"/>
<rect x="96.51" y="181.96" width="16.64" height="5.61" fill="#2eb7a4"/>
<rect x="112.55" y="181.96" width="8.62" height="5.61" fill="#1eafb3"/>
<rect x="120.57" y="181.96" width="8.62" height="5.61" fill="#0da7c3"/>
<rect x="128.59" y="181.96" width="8.62" height="5.61" fill="#099dcc"/>
<rect x="136.62" y="181.96" width="8.62" height="5.61" fill="#1481d6"/>
<rect x="144.64" y="181.96" width="8.62" height="5.61" fill="#0e8fd1"/>
<rect x="152.66" y="181.96" width="16.64" height="5.61" fill="#1481d6"/>
<rect x="168.70" y="181.96" width="8.62" height="5.61" fill="#1272d9"/>
<rect x="176.72" y="181.96" width="8.62" height="5.61" fill="#1064dc"/>
<rect x="184.74" y="181.96" width="40.71" height="5.61" fill="#1652cd"/>
<rect x="224.85" y="181.96" width="393.05" height="5.61" fill="#263ea8"/>
<rect x="56.40" y="186.98" width="16.64" height="5.61" fill="#fdd22b"/>
<rect x="72.44" y="186.98" width="8.62" height="5.61" fill="#f4c63b"/>
<rect x="80.46" y="186.98" width="8.62" height="5.61" fill="#d1bb59"/>
<rect x="88.49" y="186.98" width="16.64" height="5.61" fill="#95be71"/>
<rect x="104.53" y="186.98" width="16.64" height="5.61" fill="#2eb7a4"/>
<rect x="120.57" y="186.98" width="8.62" height="5.61" fill="#1eafb3"/>
<rect x="128.59" y="186.98" width="16.64" height="5.61" fill="#099dcc"/>
<rect x="144.64" y="186.98" width="16.64" height="5.61" fill="#0e8fd1"/>
<rect x="160.68" y="186.98" width="16.64" height="5.61" fill="#1481d6"/>
<rect x="176.72" y="186.98" width="8.62" height="5.61" fill="#1272d9"/>
<rect x="184.74" y="186.98" width="40.71" height="5.61" fill="#1652cd"/>
<rect x="224.85" y="186.98" width="393.05" height="5.61" fill="#263ea8"/>
<rect x="56.40" y="191.99" width="8.62" height="5.61" fill="#f9f90f"/>
<rect x="64.42" y="191.99" width="8.62" height="5.61" fill="#fdd22b"/>
<rect x="72.44" y="191.99" width="8.62" height="5.61" fill="#fbe61d"/>
<rect x="80.46" y="191.99" width="8.62" height="5.61" fill="#e2c04b"/>
<rect x="88.49" y="191.99" width="8.62" height="5.61" fill="#d1bb59"/>
<rect x="96.51" y="191.99" width="8.62" height="5.61" fill="#b3bd65"/>
<rect x="104.53" y="191.99" width="8.62" height="5.61" fill="#74bd81"/>
<rect x="112.55" y="191.99" width="8.62" height="5.61" fill="#52ba92"/>
<rect x="120.57" y="191.99" width="8.62" height="5.61" fill="#2eb7a4"/>
<rect x="128.59" y="191.99" width="8.62" height="5.61" fill="#0da7c3"/>
<rect x="136.62" y="191.99" width="8.62" height="5.61" fill="#099dcc"/>
<rect x="144.64" y="191.99" width="16.64" height="5.61" fill="#0e8fd1"/>
<rect x="160.68" y="191.99" width="16.64" height="5.61" fill="#1481d6"/>
<rect x="176.72" y="191.99" width="8.62" height="5.61" fill="#1272d9"/>
<rect x="184.74" y="191.99" width="16.64" height="5.61" fill="#1064dc"/>
<rect x="200.79" y="191.99" width="32.69" height="5.61" fill="#1652cd"/>
<rect x="232.87" y="191.99" width="385.03" height="5.61" fill="#263ea8"/>
<rect x="56.40" y="197.00" width="8.62" height="5.61" fill="#f9f90f"/>
<rect x="64.42" y="197.00" width="16.64" height="5.61" fill="#fdd22b"/>
<rect x="80.46" y="197.00" width="8.62" height="5.61" fill="#f4c63b"/>
<rect x="88.49" y="197.00" width="16.64" height="5.61" fill="#e2c04b"/>
<rect x="104.53" y="197.00" width="8.62" height="5.61" fill="#95be71"/>
<rect x="112.55" y="197.00" width="8.62" height="5.61" fill="#74bd81"/>
<rect x="120.57" y="197.00" width="8.62" height="5.61" fill="#52ba92"/>
<rect x="128.59" y="197.00" width="8.62" height="5.61" fill="#2eb7a4"/>
<rect x="136.62" y="197.00" width="16.64" height="5.61" fill="#0da7c3"/>
<rect x="152.66" y="197.00" width="8.62" height="5.61" fill="#099dcc"/>
<rect x="160.68" y="197.00" width="8.62" height="5.61" fill="#0e8fd1"/>
<rect x="168.70" y="197.00" width="16.64" height="5.61" fill="#1481d6"/>
<rect x="184.74" y="197.00" width="8.62" height="5.61" fill="#1272d9"/>
<rect x="192.77" y="197.00" width="16.64" height="5.61" fill="#1064dc"/>
<rect x="208.81" y="197.00" width="32.69" height="5.61" fill="#1652cd"/>
<rect x="240.89" y="197.00" width="8.62" height="5.61" fill="#263ea8"/>
<rect x="248.92" y="197.00" width="8.62" height="5.61" fill="#1652cd"/>
<rect x="256.94" y="197.00" width="360.97" height="5.61" fill="#263ea8"/>
<rect x="56.40" y="202.01" width="8.62" height="5.61" fill="#fdd22b"/>
<rect x="64.42" y="202.01" width="8.62" height="5.61" fill="#f9f90f"/>
<rect x="72.44" y="202.01" width="8.62" height="5.61" fill="#fdd22b"/>
<rect x="80.46" y="202.01" width="16.64" height="5.61" fill="#f4c63b"/>
<rect x="96.51" y="202.01" width="8.62" height="5.61" fill="#e2c04b"/>
<rect x="104.53" y="202.01" width="8.62" height="5.61" fill="#d1bb59"/>
<rect x="112.55" y="202.01" width="8.62" height="5.61" fill="#74bd81"/>
<rect x="120.57" y="202.01" width="8.62" height="5.61" fill="#95be71"/>
<rect x="128.59" y="202.01" width="8.62" height="5.61" fill="#2eb7a4"/>
<rect x="136.62" y="202.01" width="8.62" height="5.61" fill="#1eafb3"/>
<rect x="144.64" y="202.01" width="8.62" height="5.61" fill="#0da7c3"/>
<rect x="152.66" y="202.01" width="16.64" height="5.61" fill="#099dcc"/>
<rect x="168.70" y="202.01" width="8.62" height="5.61" fill="#0e8fd1"/>
<rect x="176.72" y="202.01" width="8.62" height="5.61" fill="#1481d6"/>
<rect x="184.74" y="202.01" width="16.64" height="5.61" fill="#1272d9"/>
<rect x="200.79" y="202.01" width="24.66" height="5.61" fill="#1064dc"/>
<rect x="224.85" y="202.01" width="24.66" height="5.61" fill="#1652cd"/>
<rect x="248.92" y="202.01" width="368.99" height="5.61" fill="#263ea8"/>
<rect x="56.40" y="207.03" width="8.62" height="5.61" fill="#fdd22b"/>
<rect x="64.42" y="207.03" width="16.64" height="5.61" fill="#f9f90f"/>
<rect x="80.46" y="207.03" width="8.62" height="5.61" fill="#fdd22b"/>
<rect x="88.49" y="207.03" width="16.64" height="5.61" fill="#f4c63b"/>
<rect x="104.53" y="207.03" width="8.62" height="5.61" fill="#d1bb59"/>
<rect x="112.55" y="207.03" width="8.62" height="5.61" fill="#b3bd65"/>
<rect x="120.57" y="207.03" width="8.62" height="5.61" fill="#95be71"/>
<rect x="128.59" y="207.03" width="8.62" height="5.61" fill="#52ba92"/>
<rect x="136.62" y="207.03" width="8.62" height="5.61" fill="#2eb7a4"/>
<rect x="144.64" y="207.03" width="8.62" height="5.61" fill="#1eafb3"/>
<rect x="152.66" y="207.03" width="8.62" height="5.61" fill="#0da7c3"/>
<rect x="160.68" y="207.03" width="16.64" height="5.61" fill="#099dcc"/>
<rect x="176.72" y="207.03" width="8.62" height="5.61" fill="#0e8fd1"/>
<rect x="184.74" y="207.03" width="24.66" height="5.61" fill="#1272d9"/>
<rect x="208.81" y="207.03" width="24.66" height="5.61" fill="#1064dc"/>
<rect x="232.87" y="207.03" width="40.71" height="5.61" fill="#1652cd"/>
<rect x="272.98" y="207.03" width="344.92" height="5.61" fill="#263ea8"/>
<rect x="56.40" y="212.04" width="8.62" height="5.61" fill="#fdd22b"/>
<rect x="64.42" y="212.04" width="24.66" height="5.61" fill="#f9f90f"/>
<rect x="88.49" y="212.04" width="8.62" height="5.61" fill="#f4c63b"/>
<rect x="96.51" y="212.04" width="8.62" height="5.61" fill="#fdd22b"/>
<rect x="104.53" y="212.04" width="8.62" height="5.61" fill="#f4c63b"/>
<rect x="112.55" y="212.04" width="16.64" height="5.61" fill="#e2c04b"/>
<rect x="128.59" y="212.04" width="8.62" height="5.61" fill="#95be71"/>
<rect x="136.62" y="212.04" width="8.62" height="5.61" fill="#74bd81"/>
<rect x="144.64" y="212.04" width="8.62" height="5.61" fill="#52ba92"/>
<rect x="152.66" y="212.04" width="8.62" height="5.61" fill="#1eafb3"/>
<rect x="160.68" y="212.04" width="8.62" height="5.61" fill="#0da7c3"/>
<rect x="168.70" y="212.04" width="8.62" height="5.61" fill="#099dcc"/>
<rect x="176.72" y="212.04" width="8.62" height="5.61" fill="#0e8fd1"/>
<rect x="184.74" y="212.04" width="8.62" height="5.61" fill="#1481d6"/>
<rect x="192.77" y="212.04" width="24.66" height="5.61" fill="#1272d9"/>
<rect x="216.83" y="212.04" width="16.64" height="5.61" fill="#1064dc"/>
<rect x="232.87" y="212.04" width="40.71" height="5.61" fill="#1652cd"/>
<rect x="272.98" y="212.04" width="344.92" height="5.61" fill="#263ea8"/>
<rect x="56.40" y="217.05" width="8.62" height="5.61" fill="#f4c63b"/>
<rect x="64.42" y="217.05" width="8.62" height="5.61" fill="#fdd22b"/>
<rect x="72.44" y="217.05" width="8.62" height="5.61" fill="#f4c63b"/>
<rect x="80.46" y="217.05" width="32.69" height="5.61" fill="#fdd22b"/>
<rect x="112.55" y="217.05" width="16.64" height="5.61" fill="#e2c04b"/>
<rect x="128.59" y="217.05" width="8.62" height="5.61" fill="#b3bd65"/>
<rect x="136.62" y="217.05" width="8.62" height="5.61" fill="#95be71"/>
<rect x="144.64" y="217.05" width="8.62" height="5.61" fill="#74bd81"/>
<rect x="152.66" y="217.05" width="8.62" height="5.61" fill="#52ba92"/>
<rect x="160.68" y="217.05" width="8.62" height="5.61" fill="#1eafb3"/>
<rect x="168.70" y="217.05" width="8.62" height="5.61" fill="#0da7c3"/>
<rect x="176.72" y="217.05" width="8.62" height="5.61" fill="#099dcc"/>
<rect x="184.74" y="217.05" width="24.66" height="5.61" fill="#1481d6"/>
<rect x="208.81" y="217.05" width="16.64" height="5.61" fill="#1272d9"/>
<rect x="224.85" y="217.05" width="24.66" height="5.61" fill="#1064dc"/>
<rect x="248.92" y="217.05" width="48.73" height="5.61" fill="#1652cd"/>
<rect x="297.04" y="217.05" width="320.86" height="5.61" fill="#263ea8"/>
<rect x="56.40" y="222.07" width="16.64" height="5.61" fill="#f4c63b"/>
<rect x="72.44" y="222.07" width="24.66" height="5.61" fill="#fdd22b"/>
<rect x="96.51" y="222.07" width="16.64" height="5.61" fill="#f4c63b"/>
<rect x="112.55" y="222.07" width="24.66" height="5.61" fill="#e2c04b"/>
<rect x="136.62" y="222.07" width="8.62" height="5.61" fill="#b3bd65"/>
<rect x="144.64" y="222.07" width="16.64" height="5.61" fill="#74bd81"/>
<rect x="160.68" y="222.07" width="8.62" height="5.61" fill="#52ba92"/>
<rect x="168.70" y="222.07" width="8.62" height="5.61" fill="#1eafb3"/>
<rect x="176.72" y="222.07" width="8.62" height="5.61" fill="#0da7c3"/>
<rect x="184.74" y="222.07" width="8.62" height="5.61" fill="#099dcc"/>
<rect x="192.77" y="222.07" width="8.62" height="5.61" fill="#0e8fd1"/>
<rect x="200.79" y="222.07" width="16.64" height="5.61" fill="#1481d6"/>
<rect x="216.83" y="222.07" width="24.66" height="5.61" fill="#1272d9"/>
<rect x="240.89" y="222.07" width="24.66" height="5.61" fill="#1064dc"/>
<rect x="264.96" y="222.07" width="24.66" height="5.61" fill="#1652cd"/>
<rect x="289.02" y="222.07" width="8.62" height="5.61" fill="#263ea8"/>
<rect x="297.04" y="222.07" width="8.62" height="5.61" fill="#1652cd"/>
<rect x="305.07" y="222.07" width="312.84" height="5.61" fill="#263ea8"/>
<rect x="56.40" y="227.08" width="16.64" height="5.61" fill="#d1bb59"/>
<rect x="72.44" y="227.08" width="8.62" height="5.61" fill="#f4c63b"/>
<rect x="80.46" y="227.08" width="8.62" height="5.61" fill="#e2c04b"/>
<rect x="88.49" y="227.08" width="8.62" height="5.61" fill="#f4c63b"/>
<rect x="96.51" y="227.08" width="8.62" height="5.61" fill="#d1bb59"/>
<rect x="104.53" y="227.08" width="16.64" height="5.61" fill="#fdd22b"/>
<rect x="120.57" y="227.08" width="16.64" height="5.61" fill="#f4c63b"/>
<rect x="136.62" y="227.08" width="8.62" height="5.61" fill="#d1bb59"/>
<rect x="144.64" y="227.08" width="8.62" height="5.61" fill="#95be71"/>
<rect x="152.66" y="227.08" width="16.64" height="5.61" fill="#74bd81"/>
<rect x="168.70" y="227.08" width="8.62" height="5.61" fill="#2eb7a4"/>
<rect x="176.72" y="227.08" width="8.62" height="5.61" fill="#1eafb3"/>
<rect x="184.74" y="227.08" width="8.62" height="5.61" fill="#099dcc"/>
<rect x="192.77" y="227.08" width="16.64" height="5.61" fill="#0e8fd1"/>
<rect x="208.81" y="227.08" width="16.64" height="5.61" fill="#1481d6"/>
<rect x="224.85" y="227.08" width="24.66" height="5.61" fill="#1272d9"/>
<rect x="248.92" y="227.08" width="16.64" height="5.61" fill="#1064dc"/>
<rect x="264.96" y="227.08" width="40.71" height="5.61" fill="#1652cd"/>
<rect x="305.07" y="227.08" width="312.84" height="5.61" fill="#263ea8"/>
<rect x="56.40" y="232.09" width="8.62" height="5.61" fill="#95be71"/>
<rect x="64.42" y="232.09" width="8.62" height="5.61" fill="#b3bd65"/>
<rect x="72.44" y="232.09" width="24.66" height="5.61" fill="#d1bb59"/>
<rect x="96.51" y="232.09" width="40.71" height="5.61" fill="#e2c04b"/>
<rect x="136.62" y="232.09" width="8.62" height="5.61" fill="#d1bb59"/>
<rect x="144.64" y="232.09" width="8.62" height="5.61" fill="#b3bd65"/>
<rect x="152.66" y="232.09" width="8.62" height="5.61" fill="#95be71"/>
<rect x="160.68" y="232.09" width="8.62" height="5.61" fill="#74bd81"/>
<rect x="168.70" y="232.09" width="8.62" height="5.61" fill="#52ba92"/>
<rect x="176.72" y="232.09" width="8.62" height="5.61" fill="#2eb7a4"/>
<rect x="184.74" y="232.09" width="8.62" height="5.61" fill="#0da7c3"/>
<rect x="192.77" y="232.09" width="16.64" height="5.61" fill="#099dcc"/>
<rect x="208.81" y="232.09" width="8.62" height="5.61" fill="#0e8fd1"/>
<rect x="216.83" y="232.09" width="16.64" height="5.61" fill="#1481d6"/>
<rect x="232.87" y="232.09" width="24.66" height="5.61" fill="#1272d9"/>
<rect x="256.94" y="232.09" width="24.66" height="5.61" fill="#1064dc"/>
<rect x="281.00" y="232.09" width="32.69" height="5.61" fill="#1652cd"/>
<rect x="313.09" y="232.09" width="304.82" height="5.61" fill="#263ea8"/>
<rect x="56.40" y="237.11" width="16.64" height="5.61" fill="#74bd81"/>
<rect x="72.44" y="237.11" width="16.64" height="5.61" fill="#95be71"/>
<rect x="88.49" y="237.11" width="8.62" height="5.61" fill="#b3bd65"/>
<rect x="96.51" y="237.11" width="8.62" height="5.61" fill="#d1bb59"/>
<rect x="104.53" y="237.11" width="8.62" height="5.61" fill="#e2c04b"/>
<rect x="112.55" y="237.11" width="8.62" height="5.61" fill="#d1bb59"/>
<rect x="120.57" y="237.11" width="8.62" height="5.61" fill="#b3bd65"/>
<rect x="128.59" y="237.11" width="16.64" height="5.61" fill="#d1bb59"/>
<rect x="144.64" y="237.11" width="8.62" height="5.61" fill="#b3bd65"/>
<rect x="152.66" y="237.11" width="16.64" height="5.61" fill="#95be71"/>
<rect x="168.70" y="237.11" width="8.62" height="5.61" fill="#74bd81"/>
<rect x="176.72" y="237.11" width="8.62" height="5.61" fill="#52ba92"/>
<rect x="184.74" y="237.11" width="8.62" height="5.61" fill="#1eafb3"/>
<rect x="192.77" y="237.11" width="8.62" height="5.61" fill="#0da7c3"/>
<rect x="200.79" y="237.11" width="16.64" height="5.61" fill="#099dcc"/>
<rect x="216.83" y="237.11" width="8.62" height="5.61" fill="#0e8fd1"/>
<rect x="224.85" y="237.11" width="16.64" height="5.61" fill="#1481d6"/>
<rect x="240.89" y="237.11" width="24.66" height="5.61" fill="#1272d9"/>
<rect x="264.96" y="237.11" width="24.66" height="5.61" fill="#1064dc"/>
<rect x="289.02" y="237.11" width="40.71" height="5.61" fill="#1652cd"/>
<rect x="329.13" y="237.11" width="8.62" height="5.61" fill="#263ea8"/>
<rect x="337.15" y="237.11" width="8.62" height="5.61" fill="#1652cd"/>
<rect x="345.17" y="237.11" width="272.73" height="5.61" fill="#263ea8"/>
<rect x="56.40" y="242.12" width="16.64" height="5.61" fill="#52ba92"/>
<rect x="72.44" y="242.12" width="8.62" height="5.61" fill="#74bd81"/>
<rect x="80.46" y="242.12" width="16.64" height="5.61" fill="#95be71"/>
<rect x="96.51" y="242.12" width="32.69" height="5.61" fill="#b3bd65"/>
<rect x="128.59" y="242.12" width="8.62" height="5.61" fill="#d1bb59"/>
<rect x="136.62" y="242.12" width="24.66" height="5.61" fill="#b3bd65"/>
<rect x="160.68" y="242.12" width="8.62" height="5.61" fill="#95be71"/>
<rect x="168.70" y="242.12" width="8.62" height="5.61" fill="#74bd81"/>
<rect x="176.72" y="242.12" width="8.62" height="5.61" fill="#52ba92"/>
<rect x="184.74" y="242.12" width="8.62" height="5.61" fill="#2eb7a4"/>
<rect x="192.77" y="242.12" width="8.62" height="5.61" fill="#1eafb3"/>
<rect x="200.79" y="242.12" width="8.62" height="5.61" fill="#0da7c3"/>
<rect x="208.81" y="242.12" width="16.64" height="5.61" fill="#099dcc"/>
<rect x="224.85" y="242.12" width="8.62" height="5.61" fill="#0e8fd1"/>
<rect x="232.87" y="242.12" width="24.66" height="5.61" fill="#1481d6"/>
<rect x="256.94" y="242.12" width="16.64" height="5.61" fill="#1272d9"/>
<rect x="272.98" y="242.12" width="32.69" height="5.61" fill="#1064dc"/>
<rect x="305.07" y="242.12" width="32.69" height="5.61" fill="#1652cd"/>
<rect x="337.15" y="242.12" width="16.64" height="5.61" fill="#263ea8"/>
<rect x="353.20" y="242.12" width="8.62" height="5.61" fill="#1652cd"/>
<rect x="361.22" y="242.12" width="256.69" height="5.61" fill="#263ea8"/>
<rect x="56.40" y="247.13" width="16.64" height="5.61" fill="#1eafb3"/>
<rect x="72.44" y="247.13" width="8.62" height="5.61" fill="#2eb7a4"/>
<rect x="80.46" y="247.13" width="16.64" height="5.61" fill="#52ba92"/>
<rect x="96.51" y="247.13" width="16.64" height="5.61" fill="#74bd81"/>
<rect x="112.55" y="247.13" width="56.75" height="5.61" fill="#95be71"/>
<rect x="168.70" y="247.13" width="16.64" height="5.61" fill="#74bd81"/>
<rect x="184.74" y="247.13" width="8.62" height="5.61" fill="#2eb7a4"/>
<rect x="192.77" y="247.13" width="8.62" height="5.61" fill="#52ba92"/>
<rect x="200.79" y="247.13" width="8.62" height="5.61" fill="#2eb7a4"/>
<rect x="208.81" y="247.13" width="8.62" height="5.61" fill="#1eafb3"/>
<rect x="216.83" y="247.13" width="8.62" height="5.61" fill="#0da7c3"/>
<rect x="224.85" y="247.13" width="8.62" height="5.61" fill="#099dcc"/>
<rect x="232.87" y="247.13" width="16.64" height="5.61" fill="#0e8fd1"/>
<rect x="248.92" y="247.13" width="24.66" height="5.61" fill="#1481d6"/>
<rect x="272.98" y="247.13" width="32.69" height="5.61" fill="#1272d9"/>
<rect x="305.07" y="247.13" width="16.64" height="5.61" fill="#1064dc"/>
<rect x="321.11" y="247.13" width="32.69" height="5.61" fill="#1652cd"/>
<rect x="353.20" y="247.13" width="264.71" height="5.61" fill="#263ea8"/>
<rect x="56.40" y="252.15" width="16.64" height="5.61" fill="#0da7c3"/>
<rect x="72.44" y="252.15" width="24.66" height="5.61" fill="#1eafb3"/>
<rect x="96.51" y="252.15" width="32.69" height="5.61" fill="#52ba92"/>
<rect x="128.59" y="252.15" width="48.73" height="5.61" fill="#74bd81"/>
<rect x="176.72" y="252.15" width="32.69" height="5.61" fill="#52ba92"/>
<rect x="208.81" y="252.15" width="8.62" height="5.61" fill="#2eb7a4"/>
<rect x="216.83" y="252.15" width="8.62" height="5.61" fill="#1eafb3"/>
<rect x="224.85" y="252.15" width="8.62" height="5.61" fill="#0da7c3"/>
<rect x="232.87" y="252.15" width="16.64" height="5.61" fill="#099dcc"/>
<rect x="248.92" y="252.15" width="8.62" height="5.61" fill="#0e8fd1"/>
<rect x="256.94" y="252.15" width="24.66" height="5.61" fill="#1481d6"/>
<rect x="281.00" y="252.15" width="40.71" height="5.61" fill="#1272d9"/>
<rect x="321.11" y="252.15" width="8.62" height="5.61" fill="#1064dc"/>
<rect x="329.13" y="252.15" width="32.69" height="5.61" fill="#1652cd"/>
<rect x="361.22" y="252.15" width="256.69" height="5.61" fill="#263ea8"/>
<rect x="56.40" y="257.16" width="16.64" height="5.61" fill="#099dcc"/>
<rect x="72.44" y="257.16" width="8.62" height="5.61" fill="#0da7c3"/>
<rect x="80.46" y="257.16" width="8.62" height="5.61" fill="#099dcc"/>
<rect x="88.49" y="257.16" width="8.62" height="5.61" fill="#0da7c3"/>
<rect x="96.51" y="257.16" width="16.64" height="5.61" fill="#1eafb3"/>
<rect x="112.55" y="257.16" width="32.69" height="5.61" fill="#2eb7a4"/>
<rect x="144.64" y="257.16" width="8.62" height="5.61" fill="#52ba92"/>
<rect x="152.66" y="257.16" width="8.62" height="5.61" fill="#74bd81"/>
<rect x="160.68" y="257.16" width="32.69" height="5.61" fill="#52ba92"/>
<rect x="192.77" y="257.16" width="24.66" height="5.61" fill="#2eb7a4"/>
<rect x="216.83" y="257.16" width="8.62" height="5.61" fill="#1eafb3"/>
<rect x="224.85" y="257.16" width="16.64" height="5.61" fill="#0da7c3"/>
<rect x="240.89" y="257.16" width="16.64" height="5.61" fill="#099dcc"/>
<rect x="256.94" y="257.16" width="24.66" height="5.61" fill="#0e8fd1"/>
<rect x="281.00" y="257.16" width="16.64" height="5.61" fill="#1481d6"/>
<rect x="297.04" y="257.16" width="24.66" height="5.61" fill="#1272d9"/>
<rect x="321.11" y="257.16" width="16.64" height="5.61" fill="#1064dc"/>
<rect x="337.15" y="257.16" width="40.71" height="5.61" fill="#1652cd"/>
<rect x="377.26" y="257.16" width="240.64" height="5.61" fill="#263ea8"/>
<rect x="56.40" y="262.17" width="8.62" height="5.61" fill="#0e8fd1"/>
<rect x="64.42" y="262.17" width="40.71" height="5.61" fill="#099dcc"/>
<rect x="104.53" y="262.17" width="16.64" height="5.61" fill="#0da7c3"/>
<rect x="120.57" y="262.17" width="80.81" height="5.61" fill="#2eb7a4"/>
<rect x="200.79" y="262.17" width="8.62" height="5.61" fill="#1eafb3"/>
<rect x="208.81" y="262.17" width="16.64" height="5.61" fill="#2eb7a4"/>
<rect x="224.85" y="262.17" width="8.62" height="5.61" fill="#1eafb3"/>
<rect x="232.87" y="262.17" width="16.64" height="5.61" fill="#0da7c3"/>
<rect x="248.92" y="262.17" width="16.64" height="5.61" fill="#099dcc"/>
<rect x="264.96" y="262.17" width="24.66" height="5.61" fill="#0e8fd1"/>
<rect x="289.02" y="262.17" width="16.64" height="5.61" fill="#1481d6"/>
<rect x="305.07" y="262.17" width="40.71" height="5.61" fill="#1272d9"/>
<rect x="345.17" y="262.17" width="16.64" height="5.61" fill="#1064dc"/>
<rect x="361.22" y="262.17" width="16.64" height="5.61" fill="#1652cd"/>
<rect x="377.26" y="262.17" width="8.62" height="5.61" fill="#263ea8"/>
<rect x="385.28" y="262.17" width="16.64" height="5.61" fill="#1652cd"/>
<rect x="401.32" y="262.17" width="216.58" height="5.61" fill="#263ea8"/>
<rect x="56.40" y="267.19" width="48.73" height="5.61" fill="#0e8fd1"/>
<rect x="104.53" y="267.19" width="16.64" height="5.61" fill="#099dcc"/>
<rect x="120.57" y="267.19" width="40.71" height="5.61" fill="#0da7c3"/>
<rect x="160.68" y="267.19" width="8.62" height="5.61" fill="#1eafb3"/>
<rect x="168.70" y="267.19" width="8.62" height="5.61" fill="#0da7c3"/>
<rect x="176.72" y="267.19" width="8.62" height="5.61" fill="#1eafb3"/>
<rect x="184.74" y="267.19" width="24.66" height="5.61" fill="#2eb7a4"/>
<rect x="208.81" y="267.19" width="8.62" height="5.61" fill="#0da7c3"/>
<rect x="216.83" y="267.19" width="8.62" height="5.61" fill="#2eb7a4"/>
<rect x="224.85" y="267.19" width="16.64" height="5.61" fill="#0da7c3"/>
<rect x="240.89" y="267.19" width="8.62" height="5.61" fill="#099dcc"/>
<rect x="248.92" y="267.19" width="8.62" height="5.61" fill="#0da7c3"/>
<rect x="256.94" y="267.19" width="16.64" height="5.61" fill="#099dcc"/>
<rect x="272.98" y="267.19" width="32.69" height="5.61" fill="#0e8fd1"/>
<rect x="305.07" y="267.19" width="8.62" height="5.61" fill="#1481d6"/>
<rect x="313.09" y="267.19" width="48.73" height="5.61" fill="#1272d9"/>
<rect x="361.22" y="267.19" width="16.64" height="5.61" fill="#1064dc"/>
<rect x="377.26" y="267.19" width="24.66" height="5.61" fill="#1652cd"/>
<rect x="401.32" y="267.19" width="216.58" height="5.61" fill="#263ea8"/>
<rect x="56.40" y="272.20" width="24.66" height="5.61" fill="#1481d6"/>
<rect x="80.46" y="272.20" width="8.62" height="5.61" fill="#0e8fd1"/>
<rect x="88.49" y="272.20" width="8.62" height="5.61" fill="#1481d6"/>
<rect x="96.51" y="272.20" width="32.69" height="5.61" fill="#0e8fd1"/>
<rect x="128.59" y="272.20" width="48.73" height="5.61" fill="#099dcc"/>
<rect x="176.72" y="272.20" width="8.62" height="5.61" fill="#0da7c3"/>
<rect x="184.74" y="272.20" width="8.62" height="5.61" fill="#099dcc"/>
<rect x="192.77" y="272.20" width="8.62" height="5.61" fill="#0da7c3"/>
<rect x="200.79" y="272.20" width="8.62" height="5.61" fill="#099dcc"/>
<rect x="208.81" y="272.20" width="40.71" height="5.61" fill="#0da7c3"/>
<rect x="248.92" y="272.20" width="8.62" height="5.61" fill="#1eafb3"/>
<rect x="256.94" y="272.20" width="8.62" height="5.61" fill="#0da7c3"/>
<rect x="264.96" y="272.20" width="16.64" height="5.61" fill="#099dcc"/>
<rect x="281.00" y="272.20" width="24.66" height="5.61" fill="#0e8fd1"/>
<rect x="305.07" y="272.20" width="16.64" height="5.61" fill="#1481d6"/>
<rect x="321.11" y="272.20" width="48.73" height="5.61" fill="#1272d9"/>
<rect x="369.24" y="272.20" width="32.69" height="5.61" fill="#1064dc"/>
<rect x="401.32" y="272.20" width="16.64" height="5.61" fill="#1652cd"/>
<rect x="417.37" y="272.20" width="200.54" height="5.61" fill="#263ea8"/>
<rect x="56.40" y="277.21" width="8.62" height="5.61" fill="#1481d6"/>
<rect x="64.42" y="277.21" width="24.66" height="5.61" fill="#1272d9"/>
<rect x="88.49" y="277.21" width="40.71" height="5.61" fill="#1481d6"/>
<rect x="128.59" y="277.21" width="32.69" height="5.61" fill="#0e8fd1"/>
<rect x="160.68" y="277.21" width="24.66" height="5.61" fill="#099dcc"/>
<rect x="184.74" y="277.21" width="24.66" height="5.61" fill="#0e8fd1"/>
<rect x="208.81" y="277.21" width="48.73" height="5.61" fill="#099dcc"/>
<rect x="256.94" y="277.21" width="16.64" height="5.61" fill="#0da7c3"/>
<rect x="272.98" y="277.21" width="40.71" height="5.61" fill="#0e8fd1"/>
<rect x="313.09" y="277.21" width="24.66" height="5.61" fill="#1481d6"/>
<rect x="337.15" y="277.21" width="16.64" height="5.61" fill="#1272d9"/>
<rect x="353.20" y="277.21" width="8.62" height="5.61" fill="#1481d6"/>
<rect x="361.22" y="277.21" width="16.64" height="5.61" fill="#1272d9"/>
<rect x="377.26" y="277.21" width="24.66" height="5.61" fill="#1064dc"/>
<rect x="401.32" y="277.21" width="24.66" height="5.61" fill="#1652cd"/>
<rect x="425.39" y="277.21" width="192.52" height="5.61" fill="#263ea8"/>
<rect x="56.40" y="282.23" width="24.66" height="5.61" fill="#1272d9"/>
<rect x="80.46" y="282.23" width="8.62" height="5.61" fill="#1064dc"/>
<rect x="88.49" y="282.23" width="32.69" height="5.61" fill="#1272d9"/>
<rect x="120.57" y="282.23" width="48.73" height="5.61" fill="#1481d6"/>
<rect x="168.70" y="282.23" width="16.64" height="5.61" fill="#0e8fd1"/>
<rect x="184.74" y="282.23" width="24.66" height="5.61" fill="#1481d6"/>
<rect x="208.81" y="282.23" width="8.62" height="5.61" fill="#0e8fd1"/>
<rect x="216.83" y="282.23" width="8.62" height="5.61" fill="#1481d6"/>
<rect x="224.85" y="282.23" width="80.81" height="5.61" fill="#0e8fd1"/>
<rect x="305.07" y="282.23" width="16.64" height="5.61" fill="#1481d6"/>
<rect x="321.11" y="282.23" width="8.62" height="5.61" fill="#0e8fd1"/>
<rect x="329.13" y="282.23" width="24.66" height="5.61" fill="#1481d6"/>
<rect x="353.20" y="282.23" width="24.66" height="5.61" fill="#1272d9"/>
<rect x="377.26" y="282.23" width="40.71" height="5.61" fill="#1064dc"/>
<rect x="417.37" y="282.23" width="40.71" height="5.61" fill="#1652cd"/>
<rect x="457.47" y="282.23" width="160.43" height="5.61" fill="#263ea8"/>
<rect x="56.40" y="287.24" width="24.66" height="5.61" fill="#1064dc"/>
<rect x="80.46" y="287.24" width="56.75" height="5.61" fill="#1272d9"/>
<rect x="136.62" y="287.24" width="8.62" height="5.61" fill="#1481d6"/>
<rect x="144.64" y="287.24" width="24.66" height="5.61" fill="#1272d9"/>
<rect x="168.70" y="287.24" width="16.64" height="5.61" fill="#1481d6"/>
<rect x="184.74" y="287.24" width="32.69" height="5.61" fill="#1272d9"/>
<rect x="216.83" y="287.24" width="80.81" height="5.61" fill="#1481d6"/>
<rect x="297.04" y="287.24" width="32.69" height="5.61" fill="#0e8fd1"/>
<rect x="329.13" y="287.24" width="40.71" height="5.61" fill="#1481d6"/>
<rect x="369.24" y="287.24" width="32.69" height="5.61" fill="#1272d9"/>
<rect x="401.32" y="287.24" width="24.66" height="5.61" fill="#1064dc"/>
<rect x="425.39" y="287.24" width="56.75" height="5.61" fill="#1652cd"/>
<rect x="481.54" y="287.24" width="136.37" height="5.61" fill="#263ea8"/>
<rect x="56.40" y="292.25" width="8.62" height="5.61" fill="#1064dc"/>
<rect x="64.42" y="292.25" width="8.62" height="5.61" fill="#1272d9"/>
<rect x="72.44" y="292.25" width="24.66" height="5.61" fill="#1064dc"/>
<rect x="96.51" y="292.25" width="8.62" height="5.61" fill="#1272d9"/>
<rect x="104.53" y="292.25" width="56.75" height="5.61" fill="#1064dc"/>
<rect x="160.68" y="292.25" width="24.66" height="5.61" fill="#1272d9"/>
<rect x="184.74" y="292.25" width="32.69" height="5.61" fill="#1064dc"/>
<rect x="216.83" y="292.25" width="64.77" height="5.61" fill="#1272d9"/>
<rect x="281.00" y="292.25" width="40.71" height="5.61" fill="#1481d6"/>
<rect x="321.11" y="292.25" width="8.62" height="5.61" fill="#0e8fd1"/>
<rect x="329.13" y="292.25" width="16.64" height="5.61" fill="#1481d6"/>
<rect x="345.17" y="292.25" width="8.62" height="5.61" fill="#1272d9"/>
<rect x="353.20" y="292.25" width="8.62" height="5.61" fill="#1481d6"/>
<rect x="361.22" y="292.25" width="48.73" height="5.61" fill="#1272d9"/>
<rect x="409.35" y="292.25" width="32.69" height="5.61" fill="#1064dc"/>
<rect x="441.43" y="292.25" width="72.79" height="5.61" fill="#1652cd"/>
<rect x="513.63" y="292.25" width="104.28" height="5.61" fill="#263ea8"/>
<rect x="56.40" y="297.27" width="8.62" height="5.61" fill="#1652cd"/>
<rect x="64.42" y="297.27" width="96.86" height="5.61" fill="#1064dc"/>
<rect x="160.68" y="297.27" width="8.62" height="5.61" fill="#1652cd"/>
<rect x="168.70" y="297.27" width="16.64" height="5.61" fill="#1064dc"/>
<rect x="184.74" y="297.27" width="16.64" height="5.61" fill="#1652cd"/>
<rect x="200.79" y="297.27" width="80.81" height="5.61" fill="#1064dc"/>
<rect x="281.00" y="297.27" width="16.64" height="5.61" fill="#1272d9"/>
<rect x="297.04" y="297.27" width="8.62" height="5.61" fill="#1064dc"/>
<rect x="305.07" y="297.27" width="80.81" height="5.61" fill="#1272d9"/>
<rect x="385.28" y="297.27" width="8.62" height="5.61" fill="#1064dc"/>
<rect x="393.30" y="297.27" width="32.69" height="5.61" fill="#1272d9"/>
<rect x="425.39" y="297.27" width="32.69" height="5.61" fill="#1064dc"/>
<rect x="457.47" y="297.27" width="64.77" height="5.61" fill="#1652cd"/>
<rect x="521.65" y="297.27" width="96.26" height="5.61" fill="#263ea8"/>
<rect x="56.40" y="302.28" width="8.62" height="5.61" fill="#263ea8"/>
<rect x="64.42" y="302.28" width="185.09" height="5.61" fill="#1652cd"/>
<rect x="248.92" y="302.28" width="16.64" height="5.61" fill="#1064dc"/>
<rect x="264.96" y="302.28" width="16.64" height="5.61" fill="#1652cd"/>
<rect x="281.00" y="302.28" width="88.84" height="5.61" fill="#1064dc"/>
<rect x="369.24" y="302.28" width="64.77" height="5.61" fill="#1272d9"/>
<rect x="433.41" y="302.28" width="32.69" height="5.61" fill="#1064dc"/>
<rect x="465.50" y="302.28" width="8.62" height="5.61" fill="#1652cd"/>
<rect x="473.52" y="302.28" width="8.62" height="5.61" fill="#1064dc"/>
<rect x="481.54" y="302.28" width="64.77" height="5.61" fill="#1652cd"/>
<rect x="545.71" y="302.28" width="72.19" height="5.61" fill="#263ea8"/>
<rect x="56.40" y="307.29" width="32.69" height="5.61" fill="#1652cd"/>
<rect x="88.49" y="307.29" width="8.62" height="5.61" fill="#263ea8"/>
<rect x="96.51" y="307.29" width="56.75" height="5.61" fill="#1652cd"/>
<rect x="152.66" y="307.29" width="8.62" height="5.61" fill="#263ea8"/>
<rect x="160.68" y="307.29" width="32.69" height="5.61" fill="#1652cd"/>
<rect x="192.77" y="307.29" width="8.62" height="5.61" fill="#263ea8"/>
<rect x="200.79" y="307.29" width="169.05" height="5.61" fill="#1652cd"/>
<rect x="369.24" y="307.29" width="40.71" height="5.61" fill="#1064dc"/>
<rect x="409.35" y="307.29" width="32.69" height="5.61" fill="#1272d9"/>
<rect x="441.43" y="307.29" width="112.90" height="5.61" fill="#1652cd"/>
<rect x="553.73" y="307.29" width="8.62" height="5.61" fill="#263ea8"/>
<rect x="561.75" y="307.29" width="8.62" height="5.61" fill="#1652cd"/>
<rect x="569.78" y="307.29" width="48.13" height="5.61" fill="#263ea8"/>
<rect x="56.40" y="312.31" width="40.71" height="5.61" fill="#263ea8"/>
<rect x="96.51" y="312.31" width="8.62" height="5.61" fill="#1652cd"/>
<rect x="104.53" y="312.31" width="8.62" height="5.61" fill="#263ea8"/>
<rect x="112.55" y="312.31" width="8.62" height="5.61" fill="#1652cd"/>
<rect x="120.57" y="312.31" width="24.66" height="5.61" fill="#263ea8"/>
<rect x="144.64" y="312.31" width="8.62" height="5.61" fill="#1652cd"/>
<rect x="152.66" y="312.31" width="56.75" height="5.61" fill="#263ea8"/>
<rect x="208.81" y="312.31" width="24.66" height="5.61" fill="#1652cd"/>
<rect x="232.87" y="312.31" width="48.73" height="5.61" fill="#263ea8"/>
<rect x="281.00" y="312.31" width="8.62" height="5.61" fill="#1652cd"/>
<rect x="289.02" y="312.31" width="8.62" height="5.61" fill="#263ea8"/>
<rect x="297.04" y="312.31" width="8.62" height="5.61" fill="#1652cd"/>
<rect x="305.07" y="312.31" width="8.62" height="5.61" fill="#263ea8"/>
<rect x="313.09" y="312.31" width="281.35" height="5.61" fill="#1652cd"/>
<rect x="593.84" y="312.31" width="24.06" height="5.61" fill="#263ea8"/>
<rect x="56.40" y="317.32" width="337.50" height="5.61" fill="#263ea8"/>
<rect x="393.30" y="317.32" width="8.62" height="5.61" fill="#1652cd"/>
<rect x="401.32" y="317.32" width="24.66" height="5.61" fill="#263ea8"/>
<rect x="425.39" y="317.32" width="16.64" height="5.61" fill="#1652cd"/>
<rect x="441.43" y="317.32" width="24.66" height="5.61" fill="#263ea8"/>
<rect x="465.50" y="317.32" width="88.84" height="5.61" fill="#1652cd"/>
<rect x="553.73" y="317.32" width="16.64" height="5.61" fill="#263ea8"/>
<rect x="569.78" y="317.32" width="16.64" height="5.61" fill="#1652cd"/>
<rect x="585.82" y="317.32" width="8.62" height="5.61" fill="#263ea8"/>
<rect x="593.84" y="317.32" width="24.06" height="5.61" fill="#1652cd"/>
<rect x="56.40" y="322.33" width="465.85" height="5.61" fill="#263ea8"/>
<rect x="521.65" y="322.33" width="8.62" height="5.61" fill="#1652cd"/>
<rect x="529.67" y="322.33" width="88.24" height="5.61" fill="#263ea8"/>
<rect x="56.40" y="327.34" width="561.50" height="5.61" fill="#263ea8"/>
<polyline points="59.29,130.03 65.70,134.48 72.12,138.80 78.54,143.00 84.96,147.08 91.37,151.05 97.79,154.90 104.21,158.64 110.63,162.28 117.04,165.82 123.46,169.26 129.88,172.60 136.29,175.84 142.71,179.00 149.13,182.06 155.55,185.04 161.96,187.93 168.38,190.74 174.80,193.48 181.21,196.13 187.63,198.71 194.05,201.22 200.47,203.66 206.88,206.02 213.30,208.32 219.72,210.56 226.13,212.73 232.55,214.84 238.97,216.90 245.39,218.89 251.80,220.83 258.22,222.71 264.64,224.54 271.06,226.32 277.47,228.05 283.89,229.72 290.31,231.36 296.72,232.94 303.14,234.48 309.56,235.98 315.98,237.43 322.39,238.85 328.81,240.22 335.23,241.56 341.64,242.85 348.06,244.11 354.48,245.34 360.90,246.53 367.31,247.69 373.73,248.81 380.15,249.90 386.56,250.96 392.98,252.00 399.40,253.00 405.82,253.97 412.23,254.92 418.65,255.84 425.07,256.73 431.49,257.60 437.90,258.44 444.32,259.26 450.74,260.06 457.15,260.84 463.57,261.59 469.99,262.32 476.41,263.03 482.82,263.72 489.24,264.39 495.66,265.04 502.07,265.68 508.49,266.29 514.91,266.89 521.33,267.47 527.74,268.04 534.16,268.59 540.58,269.12 546.99,269.64 553.41,270.14 559.83,270.63 566.25,271.11 572.66,271.57 579.08,272.02 585.50,272.46 591.92,272.88 598.33,273.30 604.75,273.70 611.17,274.09 615.50,274.34" fill="none" stroke="#000" stroke-width="2.2"/>
<polyline points="59.29,281.37 65.70,282.94 72.12,284.45 78.54,285.91 84.96,287.33 91.37,288.70 97.79,290.02 104.21,291.30 110.63,292.54 117.04,293.74 123.46,294.90 129.88,296.02 136.29,297.10 142.71,298.15 149.13,299.17 155.55,300.15 161.96,301.10 168.38,302.01 174.80,302.90 181.21,303.76 187.63,304.59 194.05,305.39 200.47,306.17 206.88,306.92 213.30,307.65 219.72,308.35 226.13,309.03 232.55,309.69 238.97,310.33 245.39,310.94 251.80,311.54 258.22,312.11 264.64,312.67 271.06,313.21 277.47,313.73 283.89,314.23 290.31,314.72 296.72,315.19 303.14,315.65 309.56,316.09 315.98,316.52 322.39,316.93 328.81,317.33 335.23,317.72 341.64,318.09 348.06,318.45 354.48,318.80 360.90,319.14 367.31,319.46 373.73,319.78 380.15,320.09 386.56,320.38 392.98,320.67 399.40,320.94 405.82,321.21 412.23,321.47 418.65,321.72 425.07,321.96 431.49,322.20 437.90,322.42 444.32,322.64 450.74,322.86 457.15,323.06 463.57,323.26 469.99,323.45 476.41,323.64 482.82,323.82 489.24,323.99 495.66,324.16 502.07,324.32 508.49,324.48 514.91,324.63 521.33,324.78 527.74,324.92 534.16,325.06 540.58,325.19 546.99,325.32 553.41,325.44 559.83,325.56 566.25,325.68 572.66,325.79 579.08,325.90 585.50,326.01 591.92,326.11 598.33,326.21 604.75,326.30 611.17,326.39 615.50,326.45" fill="none" stroke="#000" stroke-width="2.2"/>
<path d="M56.40,6.10V387.50H618.9" fill="none" stroke="#000" stroke-width="1.3"/>
<path d="M56.40,387.50v-11 M72.44,387.50v-5.5 M88.49,387.50v-5.5 M104.53,387.50v-5.5 M120.57,387.50v-5.5 M136.62,387.50v-11 M152.66,387.50v-5.5 M168.70,387.50v-5.5 M184.74,387.50v-5.5 M200.79,387.50v-5.5 M216.83,387.50v-11 M232.87,387.50v-5.5 M248.92,387.50v-5.5 M264.96,387.50v-5.5 M281.00,387.50v-5.5 M297.05,387.50v-11 M313.09,387.50v-5.5 M329.13,387.50v-5.5 M345.17,387.50v-5.5 M361.22,387.50v-5.5 M377.26,387.50v-11 M393.30,387.50v-5.5 M409.35,387.50v-5.5 M425.39,387.50v-5.5 M441.43,387.50v-5.5 M457.47,387.50v-11 M473.52,387.50v-5.5 M489.56,387.50v-5.5 M505.60,387.50v-5.5 M521.65,387.50v-5.5 M537.69,387.50v-11 M553.73,387.50v-5.5 M569.78,387.50v-5.5 M585.82,387.50v-5.5 M601.86,387.50v-5.5 M617.90,387.50v-11 M56.40,382.49h17 M56.40,369.96h9 M56.40,357.42h9 M56.40,344.89h9 M56.40,332.36h9 M56.40,319.82h17 M56.40,307.29h9 M56.40,294.76h9 M56.40,282.23h9 M56.40,269.69h9 M56.40,257.16h17 M56.40,244.63h9 M56.40,232.09h9 M56.40,219.56h9 M56.40,207.03h9 M56.40,194.50h17 M56.40,181.96h9 M56.40,169.43h9 M56.40,156.90h9 M56.40,144.36h9 M56.40,131.83h17 M56.40,119.30h9 M56.40,106.76h9 M56.40,94.23h9 M56.40,81.70h9 M56.40,69.16h17 M56.40,56.63h9 M56.40,44.10h9 M56.40,31.57h9 M56.40,19.03h9 M56.40,6.50h17" stroke="#000" stroke-width="1.3"/>
<text x="56.40" y="406.80" text-anchor="middle" class="t">150</text>
<text x="136.62" y="406.80" text-anchor="middle" class="t">200</text>
<text x="216.83" y="406.80" text-anchor="middle" class="t">250</text>
<text x="297.05" y="406.80" text-anchor="middle" class="t">300</text>
<text x="377.26" y="406.80" text-anchor="middle" class="t">350</text>
<text x="457.47" y="406.80" text-anchor="middle" class="t">400</text>
<text x="537.69" y="406.80" text-anchor="middle" class="t">450</text>
<text x="617.90" y="406.80" text-anchor="middle" class="t">500</text>
<text x="52.6" y="389.69" text-anchor="end" class="t">0</text>
<text x="52.6" y="327.02" text-anchor="end" class="t">0.5</text>
<text x="52.6" y="264.36" text-anchor="end" class="t">1</text>
<text x="52.6" y="201.69" text-anchor="end" class="t">1.5</text>
<text x="52.6" y="139.03" text-anchor="end" class="t">2</text>
<text x="52.6" y="76.36" text-anchor="end" class="t">2.5</text>
<text x="52.6" y="13.70" text-anchor="end" class="t">3</text>
<rect x="621.0" y="368.45" width="32.00" height="19.05" fill="#263ea8"/>
<rect x="621.0" y="349.40" width="32.00" height="19.65" fill="#1652cd"/>
<rect x="621.0" y="330.35" width="32.00" height="19.65" fill="#1064dc"/>
<rect x="621.0" y="311.30" width="32.00" height="19.65" fill="#1272d9"/>
<rect x="621.0" y="292.25" width="32.00" height="19.65" fill="#1481d6"/>
<rect x="621.0" y="273.20" width="32.00" height="19.65" fill="#0e8fd1"/>
<rect x="621.0" y="254.15" width="32.00" height="19.65" fill="#099dcc"/>
<rect x="621.0" y="235.10" width="32.00" height="19.65" fill="#0da7c3"/>
<rect x="621.0" y="216.05" width="32.00" height="19.65" fill="#1eafb3"/>
<rect x="621.0" y="197.00" width="32.00" height="19.65" fill="#2eb7a4"/>
<rect x="621.0" y="177.95" width="32.00" height="19.65" fill="#52ba92"/>
<rect x="621.0" y="158.90" width="32.00" height="19.65" fill="#74bd81"/>
<rect x="621.0" y="139.85" width="32.00" height="19.65" fill="#95be71"/>
<rect x="621.0" y="120.80" width="32.00" height="19.65" fill="#b3bd65"/>
<rect x="621.0" y="101.75" width="32.00" height="19.65" fill="#d1bb59"/>
<rect x="621.0" y="82.70" width="32.00" height="19.65" fill="#e2c04b"/>
<rect x="621.0" y="63.65" width="32.00" height="19.65" fill="#f4c63b"/>
<rect x="621.0" y="44.60" width="32.00" height="19.65" fill="#fdd22b"/>
<rect x="621.0" y="25.55" width="32.00" height="19.65" fill="#fbe61d"/>
<rect x="621.0" y="6.50" width="32.00" height="19.65" fill="#f9f90f"/>
<path d="M653.00,6.50V387.50" stroke="#000" stroke-width="1.2"/>
<path d="M653.00,387.50h-17" stroke="#000" stroke-width="1.2"/>
<text x="655.60" y="393.70" class="cb">0</text>
<path d="M653.00,243.46h-17" stroke="#000" stroke-width="1.2"/>
<text x="655.60" y="249.66" class="cb">0.2</text>
<path d="M653.00,99.41h-17" stroke="#000" stroke-width="1.2"/>
<text x="655.60" y="105.61" class="cb">0.4</text>
<text transform="translate(683.9,6.2) rotate(-90)" text-anchor="end" class="t">Yield</text>
<text transform="translate(14.8,92.7) rotate(-90)" class="t"><tspan x="17.2">R(</tspan><tspan x="41.0">b</tspan><tspan x="56.1">,</tspan><tspan x="61.7">b</tspan><tspan x="80.4">)</tspan></text>
<text transform="translate(25.1,92.7) rotate(-90)" class="sb"><tspan x="51.5">1</tspan><tspan x="73.3">2</tspan></text>
<path d="M14.2,92.0 L14.2,81.6 L2.0,86.8 Z" fill="none" stroke="#000" stroke-width="1.3"/>
<text x="541.1" y="437.80" class="t">p</text>
<text x="552.0" y="431.70" class="sb">V</text>
<text x="552.0" y="448.00" class="sb">T</text>
<text x="567.1" y="437.80" class="t">[GeV]</text>
<g fill="#fff">
<text x="125.4" y="31.6" class="t" style="font-size:20.3px" font-weight="bold" font-style="italic">ATLAS</text>
<text x="203.2" y="31.6" class="t">Simulation</text>
<path d="M128.9,44.6 L131.4,56.2" fill="none" stroke="#fff" stroke-width="2.0"/>
<path d="M131.4,56.4 L133.4,38.7 H145.9" fill="none" stroke="#fff" stroke-width="1.2" stroke-linejoin="miter"/>
<text y="56" class="t"><tspan x="135.3">s</tspan><tspan x="151.5">=</tspan><tspan x="169.3">13</tspan><tspan x="196.6">TeV,</tspan><tspan x="245.4">139</tspan><tspan x="284.4">fb</tspan></text>
<text y="46.7" class="sp"><tspan x="301.1">-</tspan><tspan x="306.7">1</tspan></text>
<text x="127.2" y="80.7" class="t" font-style="italic">1 lepton, 3 jet, 2 b-tags</text>
<text y="105.5" class="t" font-style="italic"><tspan x="125.6">qq</tspan><tspan x="184.2">WH</tspan><tspan x="253.7">l</tspan><tspan x="260.7">&#957;</tspan><tspan x="271.9">b</tspan><tspan x="283.2">b</tspan></text>
<path d="M159.05,101.4H177.2M170.7,96.2L177.4,101.4L170.7,106.6M228.9,101.4H247.2M240.6,96.2L247.3,101.4L240.6,106.6M283.6,89.1H296" fill="none" stroke="#fff" stroke-width="1.6"/>
</g>
<text x="329.9" y="187.4" class="t" fill="#fff" font-weight="bold">High</text>
<text x="393.9" y="187.4" class="t" fill="#fff" font-weight="bold">R</text>
<text x="415.9" y="187.4" class="t" fill="#fff" font-weight="bold">CR</text>
<text x="372.5" y="289.9" class="t" fill="#fff" font-weight="bold">SR</text>
<text x="331.4" y="352.2" class="t" fill="#fff" font-weight="bold">Low</text>
<text x="392.4" y="352.2" class="t" fill="#fff" font-weight="bold">R</text>
<text x="413.9" y="352.2" class="t" fill="#fff" font-weight="bold">CR</text>
<path d="M383.70,186.80L389.00,174.80L394.30,186.80Z" fill="none" stroke="#fff" stroke-width="1.2"/>
<path d="M381.70,351.60L387.00,339.60L392.30,351.60Z" fill="none" stroke="#fff" stroke-width="1.2"/>
</g>
</svg>
</body></html>
